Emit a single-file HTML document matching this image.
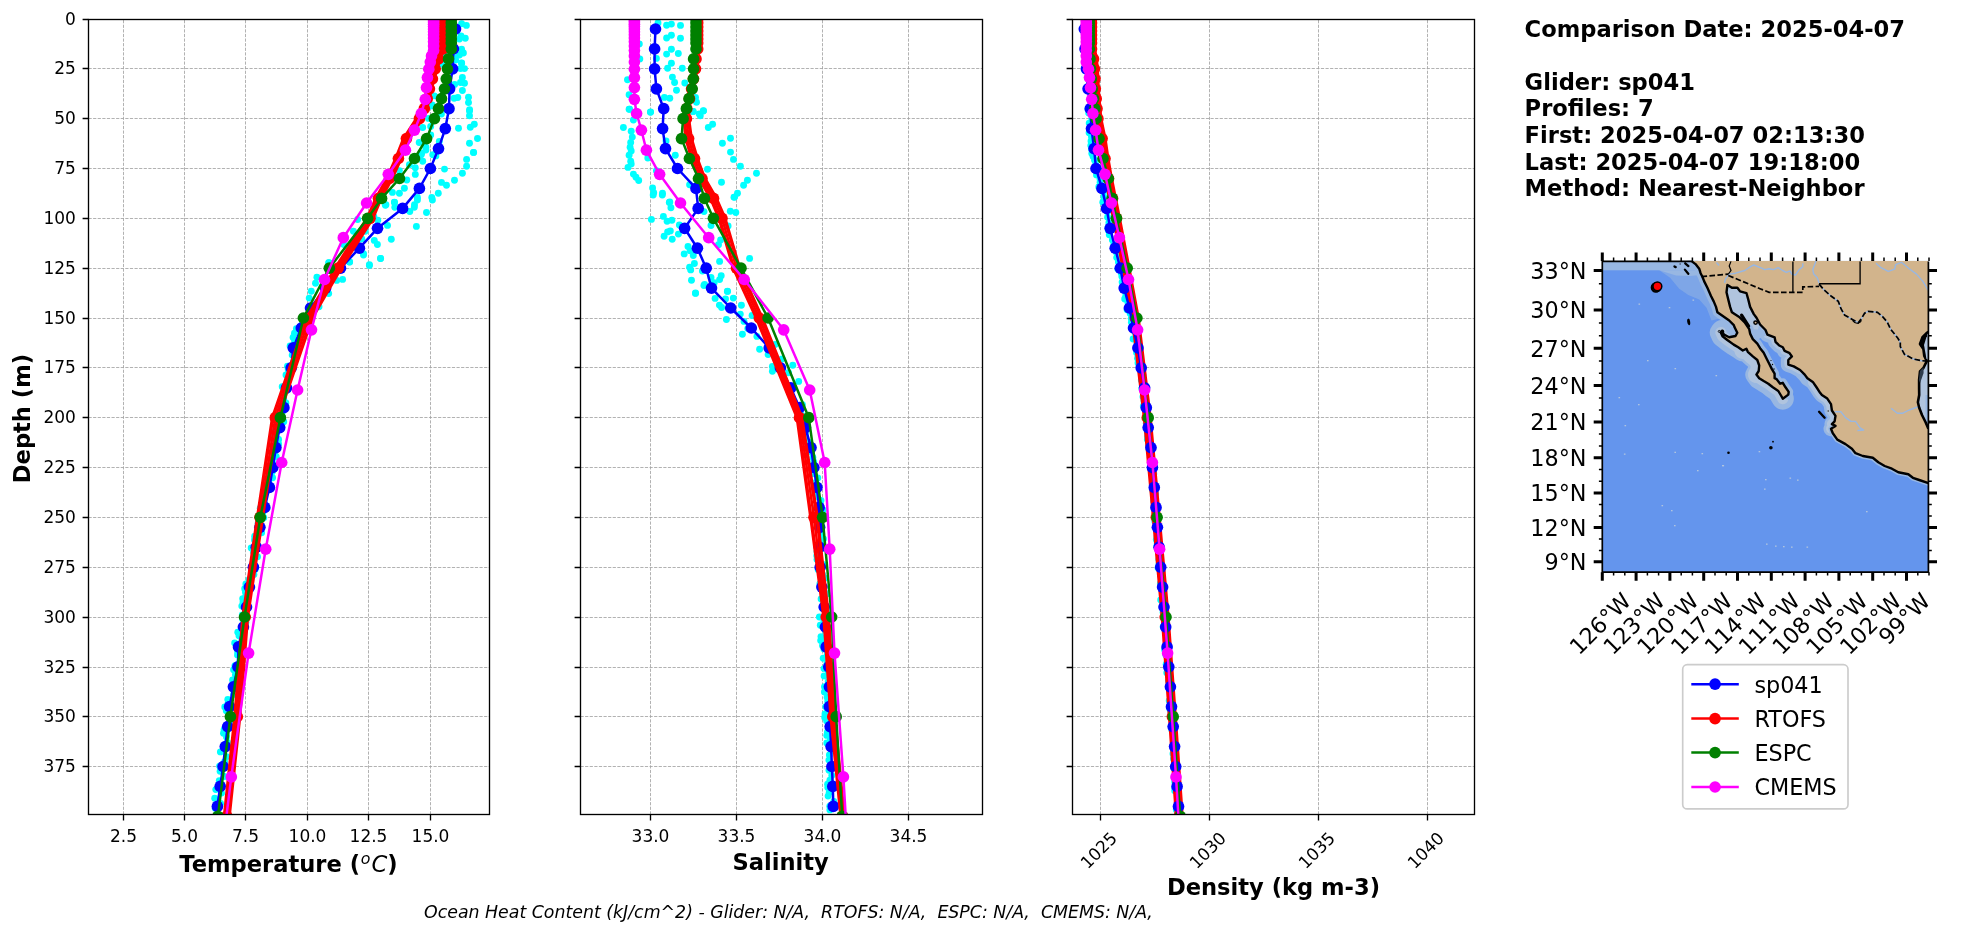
<!DOCTYPE html>
<html lang="en"><head><meta charset="utf-8"><title>Glider vs model profile comparison</title>
<style>html,body{margin:0;padding:0;background:#fff}body{width:1978px;height:934px;overflow:hidden}</style></head>
<body>
<svg width="1978" height="934" viewBox="0 0 1978 934" style="display:block;will-change:transform;font-family:'DejaVu Sans','Liberation Sans',sans-serif">
<rect width="1978" height="934" fill="#fff"/>
<g>
<path d="M123.50 814.50V19.50M184.50 814.50V19.50M245.50 814.50V19.50M307.50 814.50V19.50M368.50 814.50V19.50M430.50 814.50V19.50M88.50 68.50H489.50M88.50 118.50H489.50M88.50 168.50H489.50M88.50 218.50H489.50M88.50 268.50H489.50M88.50 318.50H489.50M88.50 367.50H489.50M88.50 417.50H489.50M88.50 467.50H489.50M88.50 517.50H489.50M88.50 567.50H489.50M88.50 617.50H489.50M88.50 667.50H489.50M88.50 716.50H489.50M88.50 766.50H489.50" stroke="#a2a2a2" stroke-width="0.83" stroke-dasharray="3.2 1.4" fill="none"/>
<g clip-path="url(#clip0)"><g fill="#00ffff"><circle cx="461.6" cy="23.8" r="3.45"/><circle cx="466.4" cy="25.4" r="3.45"/><circle cx="461.0" cy="35.9" r="3.45"/><circle cx="465.3" cy="38.3" r="3.45"/><circle cx="459.4" cy="39.1" r="3.45"/><circle cx="461.6" cy="49.3" r="3.45"/><circle cx="463.4" cy="53.0" r="3.45"/><circle cx="459.4" cy="55.1" r="3.45"/><circle cx="461.6" cy="62.9" r="3.45"/><circle cx="454.6" cy="57.8" r="3.45"/><circle cx="445.0" cy="36.4" r="3.45"/><circle cx="444.4" cy="46.6" r="3.45"/><circle cx="443.9" cy="53.5" r="3.45"/><circle cx="441.2" cy="63.2" r="3.45"/><circle cx="461.6" cy="63.2" r="3.45"/><circle cx="460.5" cy="68.6" r="3.45"/><circle cx="464.5" cy="68.6" r="3.45"/><circle cx="462.4" cy="77.4" r="3.45"/><circle cx="460.5" cy="82.5" r="3.45"/><circle cx="464.5" cy="83.3" r="3.45"/><circle cx="454.6" cy="84.4" r="3.45"/><circle cx="462.4" cy="90.5" r="3.45"/><circle cx="454.1" cy="98.3" r="3.45"/><circle cx="457.8" cy="97.5" r="3.45"/><circle cx="468.5" cy="97.2" r="3.45"/><circle cx="468.5" cy="102.6" r="3.45"/><circle cx="469.6" cy="109.8" r="3.45"/><circle cx="434.3" cy="95.9" r="3.45"/><circle cx="432.1" cy="105.0" r="3.45"/><circle cx="442.3" cy="64.3" r="3.45"/><circle cx="455.7" cy="60.0" r="3.45"/><circle cx="469.5" cy="110.9" r="3.45"/><circle cx="469.5" cy="115.7" r="3.45"/><circle cx="474.3" cy="124.3" r="3.45"/><circle cx="470.3" cy="127.2" r="3.45"/><circle cx="458.5" cy="128.3" r="3.45"/><circle cx="477.5" cy="138.5" r="3.45"/><circle cx="469.5" cy="143.3" r="3.45"/><circle cx="473.5" cy="152.4" r="3.45"/><circle cx="422.7" cy="127.5" r="3.45"/><circle cx="430.7" cy="126.4" r="3.45"/><circle cx="419.2" cy="142.5" r="3.45"/><circle cx="430.7" cy="135.0" r="3.45"/><circle cx="439.3" cy="141.4" r="3.45"/><circle cx="425.9" cy="147.3" r="3.45"/><circle cx="421.6" cy="153.2" r="3.45"/><circle cx="441.4" cy="114.1" r="3.45"/><circle cx="430.7" cy="106.1" r="3.45"/><circle cx="428.5" cy="118.4" r="3.45"/><circle cx="432.8" cy="154.8" r="3.45"/><circle cx="473.6" cy="152.4" r="3.45"/><circle cx="466.6" cy="159.4" r="3.45"/><circle cx="466.6" cy="166.2" r="3.45"/><circle cx="462.4" cy="173.3" r="3.45"/><circle cx="454.5" cy="180.3" r="3.45"/><circle cx="444.5" cy="169.1" r="3.45"/><circle cx="441.5" cy="182.4" r="3.45"/><circle cx="446.5" cy="185.3" r="3.45"/><circle cx="438.3" cy="193.3" r="3.45"/><circle cx="431.8" cy="197.4" r="3.45"/><circle cx="417.4" cy="197.4" r="3.45"/><circle cx="415.3" cy="167.7" r="3.45"/><circle cx="415.3" cy="174.4" r="3.45"/><circle cx="422.7" cy="161.2" r="3.45"/><circle cx="421.2" cy="154.7" r="3.45"/><circle cx="435.9" cy="155.9" r="3.45"/><circle cx="409.4" cy="164.7" r="3.45"/><circle cx="399.4" cy="170.6" r="3.45"/><circle cx="406.8" cy="180.0" r="3.45"/><circle cx="404.4" cy="188.3" r="3.45"/><circle cx="392.4" cy="192.4" r="3.45"/><circle cx="399.4" cy="193.3" r="3.45"/><circle cx="394.4" cy="202.1" r="3.45"/><circle cx="414.5" cy="204.8" r="3.45"/><circle cx="385.9" cy="204.8" r="3.45"/><circle cx="425.9" cy="150.0" r="3.45"/><circle cx="394.5" cy="202.4" r="3.45"/><circle cx="385.4" cy="205.2" r="3.45"/><circle cx="394.8" cy="207.3" r="3.45"/><circle cx="414.3" cy="207.3" r="3.45"/><circle cx="409.8" cy="211.5" r="3.45"/><circle cx="426.5" cy="212.5" r="3.45"/><circle cx="417.4" cy="200.0" r="3.45"/><circle cx="432.4" cy="200.0" r="3.45"/><circle cx="357.6" cy="219.5" r="3.45"/><circle cx="377.8" cy="220.2" r="3.45"/><circle cx="373.9" cy="216.7" r="3.45"/><circle cx="387.5" cy="225.4" r="3.45"/><circle cx="416.4" cy="226.4" r="3.45"/><circle cx="353.4" cy="231.3" r="3.45"/><circle cx="365.2" cy="231.3" r="3.45"/><circle cx="391.3" cy="239.3" r="3.45"/><circle cx="374.3" cy="240.4" r="3.45"/><circle cx="377.4" cy="244.5" r="3.45"/><circle cx="361.8" cy="239.0" r="3.45"/><circle cx="343.7" cy="244.5" r="3.45"/><circle cx="363.5" cy="253.6" r="3.45"/><circle cx="380.5" cy="258.5" r="3.45"/><circle cx="349.6" cy="261.9" r="3.45"/><circle cx="369.4" cy="264.7" r="3.45"/><circle cx="329.0" cy="262.6" r="3.45"/><circle cx="363.5" cy="255.0" r="3.45"/><circle cx="380.6" cy="258.5" r="3.45"/><circle cx="369.4" cy="265.4" r="3.45"/><circle cx="349.6" cy="262.0" r="3.45"/><circle cx="328.7" cy="262.7" r="3.45"/><circle cx="316.9" cy="277.3" r="3.45"/><circle cx="315.5" cy="283.2" r="3.45"/><circle cx="336.7" cy="280.4" r="3.45"/><circle cx="342.6" cy="279.4" r="3.45"/><circle cx="311.3" cy="291.2" r="3.45"/><circle cx="328.7" cy="293.6" r="3.45"/><circle cx="309.2" cy="298.1" r="3.45"/><circle cx="319.0" cy="306.8" r="3.45"/><circle cx="303.5" cy="318.0" r="3.45"/><circle cx="304.5" cy="321.5" r="3.45"/><circle cx="302.1" cy="324.7" r="3.45"/><circle cx="296.4" cy="328.8" r="3.45"/><circle cx="294.5" cy="333.2" r="3.45"/><circle cx="293.1" cy="337.4" r="3.45"/><circle cx="294.6" cy="340.7" r="3.45"/><circle cx="290.1" cy="345.9" r="3.45"/><circle cx="293.1" cy="349.6" r="3.45"/><circle cx="292.2" cy="355.1" r="3.45"/><circle cx="294.9" cy="359.3" r="3.45"/><circle cx="293.6" cy="362.4" r="3.45"/><circle cx="287.5" cy="366.3" r="3.45"/><circle cx="288.2" cy="369.7" r="3.45"/><circle cx="286.0" cy="374.9" r="3.45"/><circle cx="288.6" cy="379.5" r="3.45"/><circle cx="286.9" cy="383.5" r="3.45"/><circle cx="282.2" cy="386.8" r="3.45"/><circle cx="286.6" cy="390.4" r="3.45"/><circle cx="283.1" cy="394.6" r="3.45"/><circle cx="283.6" cy="399.2" r="3.45"/><circle cx="285.9" cy="403.0" r="3.45"/><circle cx="280.8" cy="407.9" r="3.45"/><circle cx="282.1" cy="412.5" r="3.45"/><circle cx="282.6" cy="417.9" r="3.45"/><circle cx="283.8" cy="421.7" r="3.45"/><circle cx="278.6" cy="425.1" r="3.45"/><circle cx="275.4" cy="430.2" r="3.45"/><circle cx="273.7" cy="434.5" r="3.45"/><circle cx="278.6" cy="439.4" r="3.45"/><circle cx="278.6" cy="443.9" r="3.45"/><circle cx="276.4" cy="447.8" r="3.45"/><circle cx="274.8" cy="452.5" r="3.45"/><circle cx="276.2" cy="456.7" r="3.45"/><circle cx="272.4" cy="462.3" r="3.45"/><circle cx="268.3" cy="467.1" r="3.45"/><circle cx="272.2" cy="472.0" r="3.45"/><circle cx="272.6" cy="477.7" r="3.45"/><circle cx="268.5" cy="481.5" r="3.45"/><circle cx="264.8" cy="486.3" r="3.45"/><circle cx="265.0" cy="490.6" r="3.45"/><circle cx="263.4" cy="494.0" r="3.45"/><circle cx="262.7" cy="499.1" r="3.45"/><circle cx="264.0" cy="502.8" r="3.45"/><circle cx="260.2" cy="508.2" r="3.45"/><circle cx="262.9" cy="512.4" r="3.45"/><circle cx="263.8" cy="517.8" r="3.45"/><circle cx="258.1" cy="523.2" r="3.45"/><circle cx="257.8" cy="527.3" r="3.45"/><circle cx="261.6" cy="532.7" r="3.45"/><circle cx="254.7" cy="536.2" r="3.45"/><circle cx="254.5" cy="539.9" r="3.45"/><circle cx="256.6" cy="544.2" r="3.45"/><circle cx="251.2" cy="548.0" r="3.45"/><circle cx="253.5" cy="552.2" r="3.45"/><circle cx="257.5" cy="556.7" r="3.45"/><circle cx="253.3" cy="561.6" r="3.45"/><circle cx="253.9" cy="566.3" r="3.45"/><circle cx="255.1" cy="569.5" r="3.45"/><circle cx="253.9" cy="574.6" r="3.45"/><circle cx="249.0" cy="579.8" r="3.45"/><circle cx="245.9" cy="583.9" r="3.45"/><circle cx="244.7" cy="588.7" r="3.45"/><circle cx="245.4" cy="591.9" r="3.45"/><circle cx="245.9" cy="595.4" r="3.45"/><circle cx="242.7" cy="598.6" r="3.45"/><circle cx="243.0" cy="602.1" r="3.45"/><circle cx="241.8" cy="606.1" r="3.45"/><circle cx="245.7" cy="611.5" r="3.45"/><circle cx="242.3" cy="614.9" r="3.45"/><circle cx="242.6" cy="618.9" r="3.45"/><circle cx="245.9" cy="622.3" r="3.45"/><circle cx="241.9" cy="628.0" r="3.45"/><circle cx="237.8" cy="632.3" r="3.45"/><circle cx="239.0" cy="635.7" r="3.45"/><circle cx="242.0" cy="639.4" r="3.45"/><circle cx="234.7" cy="642.9" r="3.45"/><circle cx="237.7" cy="648.5" r="3.45"/><circle cx="237.7" cy="652.0" r="3.45"/><circle cx="237.5" cy="655.1" r="3.45"/><circle cx="240.0" cy="660.7" r="3.45"/><circle cx="235.0" cy="665.6" r="3.45"/><circle cx="233.6" cy="669.7" r="3.45"/><circle cx="235.4" cy="674.8" r="3.45"/><circle cx="232.6" cy="679.9" r="3.45"/><circle cx="235.6" cy="683.6" r="3.45"/><circle cx="234.8" cy="689.2" r="3.45"/><circle cx="233.5" cy="694.4" r="3.45"/><circle cx="227.8" cy="699.4" r="3.45"/><circle cx="228.0" cy="703.9" r="3.45"/><circle cx="224.8" cy="707.0" r="3.45"/><circle cx="226.3" cy="710.8" r="3.45"/><circle cx="231.4" cy="715.7" r="3.45"/><circle cx="230.8" cy="719.9" r="3.45"/><circle cx="230.4" cy="725.6" r="3.45"/><circle cx="224.1" cy="729.6" r="3.45"/><circle cx="223.5" cy="733.3" r="3.45"/><circle cx="226.5" cy="736.9" r="3.45"/><circle cx="227.5" cy="742.4" r="3.45"/><circle cx="225.5" cy="746.7" r="3.45"/><circle cx="220.4" cy="751.9" r="3.45"/><circle cx="226.5" cy="756.7" r="3.45"/><circle cx="224.6" cy="761.8" r="3.45"/><circle cx="219.6" cy="766.1" r="3.45"/><circle cx="220.1" cy="771.3" r="3.45"/><circle cx="224.4" cy="776.5" r="3.45"/><circle cx="219.3" cy="780.6" r="3.45"/><circle cx="221.0" cy="786.1" r="3.45"/><circle cx="215.8" cy="789.6" r="3.45"/><circle cx="221.5" cy="793.1" r="3.45"/><circle cx="214.7" cy="798.3" r="3.45"/><circle cx="220.6" cy="803.5" r="3.45"/><circle cx="215.2" cy="808.3" r="3.45"/></g>
<polyline points="455.5,29.0 453.4,48.9 452.6,68.8 449.6,88.8 449.0,108.7 445.3,128.6 438.5,148.6 430.4,168.5 419.4,188.4 402.6,208.4 377.5,228.3 359.4,248.2 340.5,268.2 325.6,288.1 310.5,308.0 301.3,328.0 293.3,347.9 291.2,367.8 286.5,387.8 283.9,407.7 279.7,427.6 275.9,447.6 272.8,467.5 269.4,487.4 264.8,507.4 259.9,527.3 256.3,547.2 253.4,567.2 249.4,587.1 246.5,607.0 243.4,627.0 238.5,646.9 237.9,666.8 233.4,686.8 229.6,706.7 227.7,726.6 225.3,746.6 223.1,766.5 220.2,786.4 217.4,806.4" fill="none" stroke="#0000ff" stroke-width="2.50" stroke-linejoin="round"/><g fill="#0000ff"><circle cx="455.5" cy="29.0" r="5.83"/><circle cx="453.4" cy="48.9" r="5.83"/><circle cx="452.6" cy="68.8" r="5.83"/><circle cx="449.6" cy="88.8" r="5.83"/><circle cx="449.0" cy="108.7" r="5.83"/><circle cx="445.3" cy="128.6" r="5.83"/><circle cx="438.5" cy="148.6" r="5.83"/><circle cx="430.4" cy="168.5" r="5.83"/><circle cx="419.4" cy="188.4" r="5.83"/><circle cx="402.6" cy="208.4" r="5.83"/><circle cx="377.5" cy="228.3" r="5.83"/><circle cx="359.4" cy="248.2" r="5.83"/><circle cx="340.5" cy="268.2" r="5.83"/><circle cx="325.6" cy="288.1" r="5.83"/><circle cx="310.5" cy="308.0" r="5.83"/><circle cx="301.3" cy="328.0" r="5.83"/><circle cx="293.3" cy="347.9" r="5.83"/><circle cx="291.2" cy="367.8" r="5.83"/><circle cx="286.5" cy="387.8" r="5.83"/><circle cx="283.9" cy="407.7" r="5.83"/><circle cx="279.7" cy="427.6" r="5.83"/><circle cx="275.9" cy="447.6" r="5.83"/><circle cx="272.8" cy="467.5" r="5.83"/><circle cx="269.4" cy="487.4" r="5.83"/><circle cx="264.8" cy="507.4" r="5.83"/><circle cx="259.9" cy="527.3" r="5.83"/><circle cx="256.3" cy="547.2" r="5.83"/><circle cx="253.4" cy="567.2" r="5.83"/><circle cx="249.4" cy="587.1" r="5.83"/><circle cx="246.5" cy="607.0" r="5.83"/><circle cx="243.4" cy="627.0" r="5.83"/><circle cx="238.5" cy="646.9" r="5.83"/><circle cx="237.9" cy="666.8" r="5.83"/><circle cx="233.4" cy="686.8" r="5.83"/><circle cx="229.6" cy="706.7" r="5.83"/><circle cx="227.7" cy="726.6" r="5.83"/><circle cx="225.3" cy="746.6" r="5.83"/><circle cx="223.1" cy="766.5" r="5.83"/><circle cx="220.2" cy="786.4" r="5.83"/><circle cx="217.4" cy="806.4" r="5.83"/></g>
<polyline points="443.0,19.0 443.0,23.0 443.0,27.0 443.0,31.0 443.0,34.9 443.0,38.9 443.0,42.9 441.7,48.9 437.1,58.9 433.7,68.8 430.8,78.8 427.7,88.8 425.3,98.7 422.1,108.7 416.7,118.7 403.8,138.6 396.0,158.5 387.1,178.5 376.1,198.4 367.4,218.3 335.4,268.2 306.9,318.0 272.6,417.7 257.6,517.3 243.0,617.0 235.0,716.7 224.5,816.3" fill="none" stroke="#ff0000" stroke-width="3.50" stroke-linejoin="round"/><polyline points="445.6,19.0 445.6,23.0 445.6,27.0 445.6,31.0 445.6,34.9 445.6,38.9 445.6,42.9 444.3,48.9 439.9,58.9 436.7,68.8 434.0,78.8 431.1,88.8 429.1,98.7 426.5,108.7 422.1,118.7 409.0,138.6 400.8,158.5 391.9,178.5 380.9,198.4 372.6,218.3 340.8,268.2 312.1,318.0 278.0,417.7 262.4,517.3 247.4,617.0 239.6,716.7 229.1,816.3" fill="none" stroke="#ff0000" stroke-width="3.50" stroke-linejoin="round"/><polyline points="444.3,19.0 444.3,23.0 444.3,27.0 444.3,31.0 444.3,34.9 444.3,38.9 444.3,42.9 443.0,48.9 438.5,58.9 435.2,68.8 432.4,78.8 429.4,88.8 427.2,98.7 424.3,108.7 419.4,118.7 406.4,138.6 398.4,158.5 389.5,178.5 378.5,198.4 370.0,218.3 338.1,268.2 309.5,318.0 275.3,417.7 260.0,517.3 245.2,617.0 237.3,716.7 226.8,816.3" fill="none" stroke="#ff0000" stroke-width="2.50" stroke-linejoin="round"/><g fill="#ff0000"><circle cx="444.3" cy="19.0" r="5.83"/><circle cx="444.3" cy="23.0" r="5.83"/><circle cx="444.3" cy="27.0" r="5.83"/><circle cx="444.3" cy="31.0" r="5.83"/><circle cx="444.3" cy="34.9" r="5.83"/><circle cx="444.3" cy="38.9" r="5.83"/><circle cx="444.3" cy="42.9" r="5.83"/><circle cx="443.0" cy="48.9" r="5.83"/><circle cx="438.5" cy="58.9" r="5.83"/><circle cx="435.2" cy="68.8" r="5.83"/><circle cx="432.4" cy="78.8" r="5.83"/><circle cx="429.4" cy="88.8" r="5.83"/><circle cx="427.2" cy="98.7" r="5.83"/><circle cx="424.3" cy="108.7" r="5.83"/><circle cx="419.4" cy="118.7" r="5.83"/><circle cx="406.4" cy="138.6" r="5.83"/><circle cx="398.4" cy="158.5" r="5.83"/><circle cx="389.5" cy="178.5" r="5.83"/><circle cx="378.5" cy="198.4" r="5.83"/><circle cx="370.0" cy="218.3" r="5.83"/><circle cx="338.1" cy="268.2" r="5.83"/><circle cx="309.5" cy="318.0" r="5.83"/><circle cx="275.3" cy="417.7" r="5.83"/><circle cx="260.0" cy="517.3" r="5.83"/><circle cx="245.2" cy="617.0" r="5.83"/><circle cx="237.3" cy="716.7" r="5.83"/><circle cx="226.8" cy="816.3" r="5.83"/></g>
<polyline points="451.3,19.0 451.3,23.0 451.3,27.0 451.3,31.0 451.3,34.9 451.3,38.9 451.3,42.9 451.3,48.9 448.5,58.9 447.4,68.8 446.3,78.8 444.5,88.8 441.5,98.7 438.5,108.7 434.4,118.7 426.6,138.6 414.5,158.5 399.5,178.5 381.6,198.4 367.6,218.3 329.3,268.2 303.4,318.0 280.4,417.7 260.3,517.3 244.5,617.0 230.4,716.7 217.9,816.3" fill="none" stroke="#008000" stroke-width="2.50" stroke-linejoin="round"/><g fill="#008000"><circle cx="451.3" cy="19.0" r="5.83"/><circle cx="451.3" cy="23.0" r="5.83"/><circle cx="451.3" cy="27.0" r="5.83"/><circle cx="451.3" cy="31.0" r="5.83"/><circle cx="451.3" cy="34.9" r="5.83"/><circle cx="451.3" cy="38.9" r="5.83"/><circle cx="451.3" cy="42.9" r="5.83"/><circle cx="451.3" cy="48.9" r="5.83"/><circle cx="448.5" cy="58.9" r="5.83"/><circle cx="447.4" cy="68.8" r="5.83"/><circle cx="446.3" cy="78.8" r="5.83"/><circle cx="444.5" cy="88.8" r="5.83"/><circle cx="441.5" cy="98.7" r="5.83"/><circle cx="438.5" cy="108.7" r="5.83"/><circle cx="434.4" cy="118.7" r="5.83"/><circle cx="426.6" cy="138.6" r="5.83"/><circle cx="414.5" cy="158.5" r="5.83"/><circle cx="399.5" cy="178.5" r="5.83"/><circle cx="381.6" cy="198.4" r="5.83"/><circle cx="367.6" cy="218.3" r="5.83"/><circle cx="329.3" cy="268.2" r="5.83"/><circle cx="303.4" cy="318.0" r="5.83"/><circle cx="280.4" cy="417.7" r="5.83"/><circle cx="260.3" cy="517.3" r="5.83"/><circle cx="244.5" cy="617.0" r="5.83"/><circle cx="230.4" cy="716.7" r="5.83"/><circle cx="217.9" cy="816.3" r="5.83"/></g>
<polyline points="433.6,20.0 433.6,22.1 433.6,24.3 433.6,26.6 433.6,29.1 433.6,31.8 433.6,34.8 433.6,38.1 433.6,41.7 433.6,45.9 433.6,50.5 431.5,55.9 430.3,62.1 428.8,69.2 427.4,77.6 426.5,87.6 425.3,99.3 421.3,113.5 414.4,130.2 405.4,150.2 388.3,174.3 366.6,203.0 343.3,237.7 324.5,279.5 311.5,329.8 297.6,390.0 281.7,462.5 265.7,549.2 248.6,653.1 231.3,776.9 213.0,923.8" fill="none" stroke="#ff00ff" stroke-width="2.50" stroke-linejoin="round"/><g fill="#ff00ff"><circle cx="433.6" cy="20.0" r="5.83"/><circle cx="433.6" cy="22.1" r="5.83"/><circle cx="433.6" cy="24.3" r="5.83"/><circle cx="433.6" cy="26.6" r="5.83"/><circle cx="433.6" cy="29.1" r="5.83"/><circle cx="433.6" cy="31.8" r="5.83"/><circle cx="433.6" cy="34.8" r="5.83"/><circle cx="433.6" cy="38.1" r="5.83"/><circle cx="433.6" cy="41.7" r="5.83"/><circle cx="433.6" cy="45.9" r="5.83"/><circle cx="433.6" cy="50.5" r="5.83"/><circle cx="431.5" cy="55.9" r="5.83"/><circle cx="430.3" cy="62.1" r="5.83"/><circle cx="428.8" cy="69.2" r="5.83"/><circle cx="427.4" cy="77.6" r="5.83"/><circle cx="426.5" cy="87.6" r="5.83"/><circle cx="425.3" cy="99.3" r="5.83"/><circle cx="421.3" cy="113.5" r="5.83"/><circle cx="414.4" cy="130.2" r="5.83"/><circle cx="405.4" cy="150.2" r="5.83"/><circle cx="388.3" cy="174.3" r="5.83"/><circle cx="366.6" cy="203.0" r="5.83"/><circle cx="343.3" cy="237.7" r="5.83"/><circle cx="324.5" cy="279.5" r="5.83"/><circle cx="311.5" cy="329.8" r="5.83"/><circle cx="297.6" cy="390.0" r="5.83"/><circle cx="281.7" cy="462.5" r="5.83"/><circle cx="265.7" cy="549.2" r="5.83"/><circle cx="248.6" cy="653.1" r="5.83"/><circle cx="231.3" cy="776.9" r="5.83"/><circle cx="213.0" cy="923.8" r="5.83"/></g></g>
<clipPath id="clip0"><rect x="88.50" y="19.50" width="401.00" height="795.00"/></clipPath>
<path d="M123.50 814.50v5.9M184.50 814.50v5.9M245.50 814.50v5.9M307.50 814.50v5.9M368.50 814.50v5.9M430.50 814.50v5.9M88.50 19.50h-5.9M88.50 68.50h-5.9M88.50 118.50h-5.9M88.50 168.50h-5.9M88.50 218.50h-5.9M88.50 268.50h-5.9M88.50 318.50h-5.9M88.50 367.50h-5.9M88.50 417.50h-5.9M88.50 467.50h-5.9M88.50 517.50h-5.9M88.50 567.50h-5.9M88.50 617.50h-5.9M88.50 667.50h-5.9M88.50 716.50h-5.9M88.50 766.50h-5.9" stroke="#000" stroke-width="1.33" fill="none"/>
<rect x="88.50" y="19.50" width="401.00" height="795.00" fill="none" stroke="#000" stroke-width="1.33"/>
<text x="123.50" y="842.1" font-size="17.00" text-anchor="middle">2.5</text>
<text x="184.50" y="842.1" font-size="17.00" text-anchor="middle">5.0</text>
<text x="245.50" y="842.1" font-size="17.00" text-anchor="middle">7.5</text>
<text x="307.50" y="842.1" font-size="17.00" text-anchor="middle">10.0</text>
<text x="368.50" y="842.1" font-size="17.00" text-anchor="middle">12.5</text>
<text x="430.50" y="842.1" font-size="17.00" text-anchor="middle">15.0</text>
<text x="75.9" y="25.10" font-size="17.00" text-anchor="end">0</text>
<text x="75.9" y="74.10" font-size="17.00" text-anchor="end">25</text>
<text x="75.9" y="124.10" font-size="17.00" text-anchor="end">50</text>
<text x="75.9" y="174.10" font-size="17.00" text-anchor="end">75</text>
<text x="75.9" y="224.10" font-size="17.00" text-anchor="end">100</text>
<text x="75.9" y="274.10" font-size="17.00" text-anchor="end">125</text>
<text x="75.9" y="324.10" font-size="17.00" text-anchor="end">150</text>
<text x="75.9" y="373.10" font-size="17.00" text-anchor="end">175</text>
<text x="75.9" y="423.10" font-size="17.00" text-anchor="end">200</text>
<text x="75.9" y="473.10" font-size="17.00" text-anchor="end">225</text>
<text x="75.9" y="523.10" font-size="17.00" text-anchor="end">250</text>
<text x="75.9" y="573.10" font-size="17.00" text-anchor="end">275</text>
<text x="75.9" y="623.10" font-size="17.00" text-anchor="end">300</text>
<text x="75.9" y="673.10" font-size="17.00" text-anchor="end">325</text>
<text x="75.9" y="722.10" font-size="17.00" text-anchor="end">350</text>
<text x="75.9" y="772.10" font-size="17.00" text-anchor="end">375</text>
</g>
<g>
<path d="M650.50 814.50V19.50M736.50 814.50V19.50M822.50 814.50V19.50M908.50 814.50V19.50M580.50 68.50H982.50M580.50 118.50H982.50M580.50 168.50H982.50M580.50 218.50H982.50M580.50 268.50H982.50M580.50 318.50H982.50M580.50 367.50H982.50M580.50 417.50H982.50M580.50 467.50H982.50M580.50 517.50H982.50M580.50 567.50H982.50M580.50 617.50H982.50M580.50 667.50H982.50M580.50 716.50H982.50M580.50 766.50H982.50" stroke="#a2a2a2" stroke-width="0.83" stroke-dasharray="3.2 1.4" fill="none"/>
<g clip-path="url(#clip1)"><g fill="#00ffff"><circle cx="658.0" cy="23.0" r="3.45"/><circle cx="666.6" cy="25.2" r="3.45"/><circle cx="671.4" cy="24.1" r="3.45"/><circle cx="680.5" cy="25.4" r="3.45"/><circle cx="666.6" cy="38.0" r="3.45"/><circle cx="671.4" cy="35.3" r="3.45"/><circle cx="680.5" cy="38.2" r="3.45"/><circle cx="671.4" cy="49.3" r="3.45"/><circle cx="666.6" cy="54.1" r="3.45"/><circle cx="678.3" cy="53.5" r="3.45"/><circle cx="656.4" cy="58.4" r="3.45"/><circle cx="671.4" cy="63.2" r="3.45"/><circle cx="667.6" cy="68.2" r="3.45"/><circle cx="682.3" cy="68.2" r="3.45"/><circle cx="672.4" cy="77.1" r="3.45"/><circle cx="674.6" cy="82.5" r="3.45"/><circle cx="684.8" cy="83.0" r="3.45"/><circle cx="627.5" cy="79.8" r="3.45"/><circle cx="676.5" cy="90.3" r="3.45"/><circle cx="629.1" cy="94.8" r="3.45"/><circle cx="664.4" cy="97.4" r="3.45"/><circle cx="669.8" cy="98.3" r="3.45"/><circle cx="695.5" cy="97.4" r="3.45"/><circle cx="696.5" cy="102.3" r="3.45"/><circle cx="629.6" cy="109.2" r="3.45"/><circle cx="650.5" cy="111.9" r="3.45"/><circle cx="693.3" cy="111.4" r="3.45"/><circle cx="703.5" cy="110.8" r="3.45"/><circle cx="699.2" cy="114.0" r="3.45"/><circle cx="639.3" cy="43.9" r="3.45"/><circle cx="639.8" cy="58.9" r="3.45"/><circle cx="629.1" cy="109.3" r="3.45"/><circle cx="633.4" cy="120.0" r="3.45"/><circle cx="623.4" cy="127.5" r="3.45"/><circle cx="631.2" cy="131.2" r="3.45"/><circle cx="632.3" cy="137.1" r="3.45"/><circle cx="630.7" cy="142.5" r="3.45"/><circle cx="630.1" cy="147.3" r="3.45"/><circle cx="631.2" cy="151.0" r="3.45"/><circle cx="629.1" cy="155.3" r="3.45"/><circle cx="630.7" cy="161.2" r="3.45"/><circle cx="631.2" cy="163.9" r="3.45"/><circle cx="628.0" cy="167.4" r="3.45"/><circle cx="633.4" cy="174.1" r="3.45"/><circle cx="636.0" cy="177.3" r="3.45"/><circle cx="638.7" cy="180.5" r="3.45"/><circle cx="647.8" cy="158.0" r="3.45"/><circle cx="650.5" cy="112.3" r="3.45"/><circle cx="666.0" cy="140.9" r="3.45"/><circle cx="675.3" cy="155.3" r="3.45"/><circle cx="656.4" cy="170.8" r="3.45"/><circle cx="652.6" cy="188.0" r="3.45"/><circle cx="653.7" cy="192.8" r="3.45"/><circle cx="662.5" cy="193.3" r="3.45"/><circle cx="669.8" cy="201.9" r="3.45"/><circle cx="689.6" cy="184.8" r="3.45"/><circle cx="692.8" cy="111.4" r="3.45"/><circle cx="703.3" cy="110.9" r="3.45"/><circle cx="700.3" cy="115.7" r="3.45"/><circle cx="712.6" cy="124.3" r="3.45"/><circle cx="708.3" cy="127.5" r="3.45"/><circle cx="730.5" cy="138.2" r="3.45"/><circle cx="722.4" cy="143.3" r="3.45"/><circle cx="730.5" cy="152.1" r="3.45"/><circle cx="733.5" cy="159.4" r="3.45"/><circle cx="740.4" cy="166.3" r="3.45"/><circle cx="707.5" cy="169.2" r="3.45"/><circle cx="756.5" cy="173.3" r="3.45"/><circle cx="747.4" cy="180.3" r="3.45"/><circle cx="721.5" cy="182.3" r="3.45"/><circle cx="743.6" cy="185.3" r="3.45"/><circle cx="737.5" cy="193.3" r="3.45"/><circle cx="734.0" cy="197.3" r="3.45"/><circle cx="653.2" cy="195.0" r="3.45"/><circle cx="662.3" cy="195.0" r="3.45"/><circle cx="734.6" cy="197.1" r="3.45"/><circle cx="669.3" cy="202.5" r="3.45"/><circle cx="670.9" cy="207.8" r="3.45"/><circle cx="730.3" cy="211.3" r="3.45"/><circle cx="735.8" cy="212.5" r="3.45"/><circle cx="704.0" cy="211.6" r="3.45"/><circle cx="663.4" cy="216.4" r="3.45"/><circle cx="651.4" cy="219.4" r="3.45"/><circle cx="667.1" cy="221.2" r="3.45"/><circle cx="671.9" cy="220.2" r="3.45"/><circle cx="679.4" cy="225.0" r="3.45"/><circle cx="711.0" cy="225.5" r="3.45"/><circle cx="728.1" cy="226.0" r="3.45"/><circle cx="667.6" cy="231.9" r="3.45"/><circle cx="670.3" cy="230.9" r="3.45"/><circle cx="664.1" cy="236.2" r="3.45"/><circle cx="678.4" cy="234.1" r="3.45"/><circle cx="672.2" cy="239.2" r="3.45"/><circle cx="720.6" cy="240.0" r="3.45"/><circle cx="718.5" cy="244.8" r="3.45"/><circle cx="688.0" cy="246.4" r="3.45"/><circle cx="684.2" cy="253.9" r="3.45"/><circle cx="690.1" cy="250.7" r="3.45"/><circle cx="693.3" cy="255.5" r="3.45"/><circle cx="749.6" cy="258.4" r="3.45"/><circle cx="719.6" cy="261.4" r="3.45"/><circle cx="694.4" cy="263.5" r="3.45"/><circle cx="689.6" cy="267.3" r="3.45"/><circle cx="690.7" cy="269.9" r="3.45"/><circle cx="702.4" cy="271.0" r="3.45"/><circle cx="721.2" cy="275.8" r="3.45"/><circle cx="719.6" cy="279.6" r="3.45"/><circle cx="711.0" cy="277.4" r="3.45"/><circle cx="691.5" cy="280.3" r="3.45"/><circle cx="704.6" cy="284.4" r="3.45"/><circle cx="714.2" cy="282.8" r="3.45"/><circle cx="727.4" cy="291.4" r="3.45"/><circle cx="695.5" cy="293.0" r="3.45"/><circle cx="695.5" cy="293.4" r="3.45"/><circle cx="703.9" cy="285.5" r="3.45"/><circle cx="727.5" cy="291.2" r="3.45"/><circle cx="715.1" cy="298.4" r="3.45"/><circle cx="725.5" cy="298.9" r="3.45"/><circle cx="733.3" cy="298.1" r="3.45"/><circle cx="719.4" cy="305.1" r="3.45"/><circle cx="721.6" cy="307.5" r="3.45"/><circle cx="741.4" cy="305.3" r="3.45"/><circle cx="740.3" cy="314.1" r="3.45"/><circle cx="726.4" cy="319.5" r="3.45"/><circle cx="752.1" cy="315.5" r="3.45"/><circle cx="744.0" cy="321.4" r="3.45"/><circle cx="747.8" cy="328.4" r="3.45"/><circle cx="742.4" cy="334.3" r="3.45"/><circle cx="756.9" cy="336.4" r="3.45"/><circle cx="759.6" cy="349.2" r="3.45"/><circle cx="775.1" cy="344.4" r="3.45"/><circle cx="768.1" cy="354.6" r="3.45"/><circle cx="782.0" cy="358.9" r="3.45"/><circle cx="792.8" cy="365.3" r="3.45"/><circle cx="772.4" cy="366.4" r="3.45"/><circle cx="772.4" cy="371.2" r="3.45"/><circle cx="788.5" cy="372.8" r="3.45"/><circle cx="798.7" cy="381.4" r="3.45"/><circle cx="794.4" cy="401.7" r="3.45"/><circle cx="802.4" cy="404.8" r="3.45"/><circle cx="800.7" cy="409.6" r="3.45"/><circle cx="801.6" cy="415.1" r="3.45"/><circle cx="806.4" cy="420.5" r="3.45"/><circle cx="802.9" cy="424.1" r="3.45"/><circle cx="803.9" cy="428.0" r="3.45"/><circle cx="805.4" cy="432.6" r="3.45"/><circle cx="805.5" cy="436.7" r="3.45"/><circle cx="808.8" cy="442.2" r="3.45"/><circle cx="811.9" cy="446.5" r="3.45"/><circle cx="811.5" cy="451.9" r="3.45"/><circle cx="812.9" cy="457.4" r="3.45"/><circle cx="813.8" cy="461.9" r="3.45"/><circle cx="813.6" cy="465.0" r="3.45"/><circle cx="810.6" cy="468.6" r="3.45"/><circle cx="812.7" cy="473.7" r="3.45"/><circle cx="817.8" cy="478.0" r="3.45"/><circle cx="815.3" cy="482.6" r="3.45"/><circle cx="817.8" cy="487.0" r="3.45"/><circle cx="814.8" cy="492.1" r="3.45"/><circle cx="816.4" cy="496.7" r="3.45"/><circle cx="821.0" cy="500.5" r="3.45"/><circle cx="819.8" cy="504.9" r="3.45"/><circle cx="823.0" cy="510.0" r="3.45"/><circle cx="820.7" cy="514.2" r="3.45"/><circle cx="820.0" cy="518.6" r="3.45"/><circle cx="819.6" cy="523.5" r="3.45"/><circle cx="819.9" cy="528.0" r="3.45"/><circle cx="821.6" cy="533.5" r="3.45"/><circle cx="823.5" cy="538.9" r="3.45"/><circle cx="820.4" cy="542.6" r="3.45"/><circle cx="822.7" cy="548.2" r="3.45"/><circle cx="817.0" cy="551.6" r="3.45"/><circle cx="816.8" cy="555.8" r="3.45"/><circle cx="817.0" cy="559.6" r="3.45"/><circle cx="822.9" cy="564.4" r="3.45"/><circle cx="818.2" cy="569.8" r="3.45"/><circle cx="822.6" cy="574.8" r="3.45"/><circle cx="824.7" cy="578.2" r="3.45"/><circle cx="819.9" cy="583.8" r="3.45"/><circle cx="821.9" cy="589.4" r="3.45"/><circle cx="827.1" cy="593.8" r="3.45"/><circle cx="821.1" cy="599.0" r="3.45"/><circle cx="824.4" cy="603.2" r="3.45"/><circle cx="822.3" cy="607.2" r="3.45"/><circle cx="826.7" cy="611.1" r="3.45"/><circle cx="825.6" cy="614.2" r="3.45"/><circle cx="819.4" cy="617.0" r="3.45"/><circle cx="823.9" cy="620.9" r="3.45"/><circle cx="820.3" cy="625.3" r="3.45"/><circle cx="825.6" cy="631.0" r="3.45"/><circle cx="821.0" cy="636.6" r="3.45"/><circle cx="820.7" cy="640.4" r="3.45"/><circle cx="822.5" cy="645.5" r="3.45"/><circle cx="823.9" cy="648.9" r="3.45"/><circle cx="827.4" cy="654.4" r="3.45"/><circle cx="823.2" cy="658.2" r="3.45"/><circle cx="826.9" cy="663.6" r="3.45"/><circle cx="824.0" cy="668.6" r="3.45"/><circle cx="828.3" cy="671.8" r="3.45"/><circle cx="824.1" cy="676.0" r="3.45"/><circle cx="828.2" cy="681.5" r="3.45"/><circle cx="824.5" cy="686.7" r="3.45"/><circle cx="824.4" cy="692.0" r="3.45"/><circle cx="827.1" cy="697.3" r="3.45"/><circle cx="827.8" cy="701.3" r="3.45"/><circle cx="825.8" cy="706.8" r="3.45"/><circle cx="827.7" cy="710.2" r="3.45"/><circle cx="825.0" cy="713.9" r="3.45"/><circle cx="824.7" cy="717.4" r="3.45"/><circle cx="826.7" cy="721.0" r="3.45"/><circle cx="829.9" cy="724.9" r="3.45"/><circle cx="828.3" cy="728.7" r="3.45"/><circle cx="827.4" cy="732.3" r="3.45"/><circle cx="826.8" cy="735.4" r="3.45"/><circle cx="830.4" cy="738.5" r="3.45"/><circle cx="826.8" cy="743.0" r="3.45"/><circle cx="832.2" cy="747.3" r="3.45"/><circle cx="831.5" cy="750.7" r="3.45"/><circle cx="829.4" cy="754.9" r="3.45"/><circle cx="828.9" cy="760.1" r="3.45"/><circle cx="831.1" cy="764.5" r="3.45"/><circle cx="829.0" cy="770.2" r="3.45"/><circle cx="831.8" cy="775.5" r="3.45"/><circle cx="829.9" cy="780.2" r="3.45"/><circle cx="827.6" cy="784.2" r="3.45"/><circle cx="827.8" cy="787.6" r="3.45"/><circle cx="829.2" cy="792.6" r="3.45"/><circle cx="828.1" cy="796.1" r="3.45"/><circle cx="833.8" cy="801.4" r="3.45"/><circle cx="829.8" cy="806.2" r="3.45"/><circle cx="829.9" cy="809.9" r="3.45"/></g>
<polyline points="655.5,29.0 654.6,48.9 654.6,68.8 656.4,88.8 663.7,108.7 662.6,128.6 665.5,148.6 677.5,168.5 696.0,188.4 698.2,208.4 684.6,228.3 697.4,248.2 706.2,268.2 711.5,288.1 730.7,308.0 751.3,328.0 769.2,347.9 780.4,367.8 790.8,387.8 799.4,407.7 805.4,427.6 811.0,447.6 813.9,467.5 816.9,487.4 819.1,507.4 819.6,527.3 819.4,547.2 820.2,567.2 821.9,587.1 824.2,607.0 825.4,627.0 826.2,646.9 828.8,666.8 829.4,686.8 829.4,706.7 830.2,726.6 831.1,746.6 831.9,766.5 832.8,786.4 833.3,806.4" fill="none" stroke="#0000ff" stroke-width="2.50" stroke-linejoin="round"/><g fill="#0000ff"><circle cx="655.5" cy="29.0" r="5.83"/><circle cx="654.6" cy="48.9" r="5.83"/><circle cx="654.6" cy="68.8" r="5.83"/><circle cx="656.4" cy="88.8" r="5.83"/><circle cx="663.7" cy="108.7" r="5.83"/><circle cx="662.6" cy="128.6" r="5.83"/><circle cx="665.5" cy="148.6" r="5.83"/><circle cx="677.5" cy="168.5" r="5.83"/><circle cx="696.0" cy="188.4" r="5.83"/><circle cx="698.2" cy="208.4" r="5.83"/><circle cx="684.6" cy="228.3" r="5.83"/><circle cx="697.4" cy="248.2" r="5.83"/><circle cx="706.2" cy="268.2" r="5.83"/><circle cx="711.5" cy="288.1" r="5.83"/><circle cx="730.7" cy="308.0" r="5.83"/><circle cx="751.3" cy="328.0" r="5.83"/><circle cx="769.2" cy="347.9" r="5.83"/><circle cx="780.4" cy="367.8" r="5.83"/><circle cx="790.8" cy="387.8" r="5.83"/><circle cx="799.4" cy="407.7" r="5.83"/><circle cx="805.4" cy="427.6" r="5.83"/><circle cx="811.0" cy="447.6" r="5.83"/><circle cx="813.9" cy="467.5" r="5.83"/><circle cx="816.9" cy="487.4" r="5.83"/><circle cx="819.1" cy="507.4" r="5.83"/><circle cx="819.6" cy="527.3" r="5.83"/><circle cx="819.4" cy="547.2" r="5.83"/><circle cx="820.2" cy="567.2" r="5.83"/><circle cx="821.9" cy="587.1" r="5.83"/><circle cx="824.2" cy="607.0" r="5.83"/><circle cx="825.4" cy="627.0" r="5.83"/><circle cx="826.2" cy="646.9" r="5.83"/><circle cx="828.8" cy="666.8" r="5.83"/><circle cx="829.4" cy="686.8" r="5.83"/><circle cx="829.4" cy="706.7" r="5.83"/><circle cx="830.2" cy="726.6" r="5.83"/><circle cx="831.1" cy="746.6" r="5.83"/><circle cx="831.9" cy="766.5" r="5.83"/><circle cx="832.8" cy="786.4" r="5.83"/><circle cx="833.3" cy="806.4" r="5.83"/></g>
<polyline points="696.5,19.0 696.5,23.0 696.5,27.0 696.5,31.0 696.5,34.9 696.5,38.9 696.5,42.9 696.5,48.9 694.8,58.9 694.3,68.8 692.2,78.8 690.2,88.8 688.0,98.7 685.1,108.7 684.3,118.7 686.0,138.6 691.9,158.5 699.4,178.5 710.9,198.4 719.2,218.3 733.6,268.2 756.6,318.0 797.3,417.7 810.9,517.3 824.0,617.0 831.1,716.7 841.0,816.3" fill="none" stroke="#ff0000" stroke-width="3.50" stroke-linejoin="round"/><polyline points="698.9,19.0 698.9,23.0 698.9,27.0 698.9,31.0 698.9,34.9 698.9,38.9 698.9,42.9 698.9,48.9 697.2,58.9 696.7,68.8 694.8,78.8 693.0,88.8 691.0,98.7 688.5,108.7 688.5,118.7 691.2,138.6 697.1,158.5 704.6,178.5 716.1,198.4 724.8,218.3 739.4,268.2 762.0,318.0 801.7,417.7 817.1,517.3 828.4,617.0 834.5,716.7 844.0,816.3" fill="none" stroke="#ff0000" stroke-width="3.50" stroke-linejoin="round"/><polyline points="697.7,19.0 697.7,23.0 697.7,27.0 697.7,31.0 697.7,34.9 697.7,38.9 697.7,42.9 697.7,48.9 696.0,58.9 695.5,68.8 693.5,78.8 691.6,88.8 689.5,98.7 686.8,108.7 686.4,118.7 688.6,138.6 694.5,158.5 702.0,178.5 713.5,198.4 722.0,218.3 736.5,268.2 759.3,318.0 799.5,417.7 814.0,517.3 826.2,617.0 832.8,716.7 842.5,816.3" fill="none" stroke="#ff0000" stroke-width="2.50" stroke-linejoin="round"/><g fill="#ff0000"><circle cx="697.7" cy="19.0" r="5.83"/><circle cx="697.7" cy="23.0" r="5.83"/><circle cx="697.7" cy="27.0" r="5.83"/><circle cx="697.7" cy="31.0" r="5.83"/><circle cx="697.7" cy="34.9" r="5.83"/><circle cx="697.7" cy="38.9" r="5.83"/><circle cx="697.7" cy="42.9" r="5.83"/><circle cx="697.7" cy="48.9" r="5.83"/><circle cx="696.0" cy="58.9" r="5.83"/><circle cx="695.5" cy="68.8" r="5.83"/><circle cx="693.5" cy="78.8" r="5.83"/><circle cx="691.6" cy="88.8" r="5.83"/><circle cx="689.5" cy="98.7" r="5.83"/><circle cx="686.8" cy="108.7" r="5.83"/><circle cx="686.4" cy="118.7" r="5.83"/><circle cx="688.6" cy="138.6" r="5.83"/><circle cx="694.5" cy="158.5" r="5.83"/><circle cx="702.0" cy="178.5" r="5.83"/><circle cx="713.5" cy="198.4" r="5.83"/><circle cx="722.0" cy="218.3" r="5.83"/><circle cx="736.5" cy="268.2" r="5.83"/><circle cx="759.3" cy="318.0" r="5.83"/><circle cx="799.5" cy="417.7" r="5.83"/><circle cx="814.0" cy="517.3" r="5.83"/><circle cx="826.2" cy="617.0" r="5.83"/><circle cx="832.8" cy="716.7" r="5.83"/><circle cx="842.5" cy="816.3" r="5.83"/></g>
<polyline points="696.0,19.0 696.0,23.0 696.0,27.0 696.0,31.0 696.0,34.9 696.0,38.9 696.0,42.9 696.0,48.9 693.6,58.9 693.6,68.8 693.3,78.8 692.2,88.8 689.0,98.7 686.4,108.7 683.1,118.7 681.5,138.6 689.4,158.5 698.5,178.5 704.4,198.4 713.4,218.3 741.0,268.2 768.1,318.0 808.8,417.7 822.6,517.3 831.7,617.0 836.2,716.7 842.2,816.3" fill="none" stroke="#008000" stroke-width="2.50" stroke-linejoin="round"/><g fill="#008000"><circle cx="696.0" cy="19.0" r="5.83"/><circle cx="696.0" cy="23.0" r="5.83"/><circle cx="696.0" cy="27.0" r="5.83"/><circle cx="696.0" cy="31.0" r="5.83"/><circle cx="696.0" cy="34.9" r="5.83"/><circle cx="696.0" cy="38.9" r="5.83"/><circle cx="696.0" cy="42.9" r="5.83"/><circle cx="696.0" cy="48.9" r="5.83"/><circle cx="693.6" cy="58.9" r="5.83"/><circle cx="693.6" cy="68.8" r="5.83"/><circle cx="693.3" cy="78.8" r="5.83"/><circle cx="692.2" cy="88.8" r="5.83"/><circle cx="689.0" cy="98.7" r="5.83"/><circle cx="686.4" cy="108.7" r="5.83"/><circle cx="683.1" cy="118.7" r="5.83"/><circle cx="681.5" cy="138.6" r="5.83"/><circle cx="689.4" cy="158.5" r="5.83"/><circle cx="698.5" cy="178.5" r="5.83"/><circle cx="704.4" cy="198.4" r="5.83"/><circle cx="713.4" cy="218.3" r="5.83"/><circle cx="741.0" cy="268.2" r="5.83"/><circle cx="768.1" cy="318.0" r="5.83"/><circle cx="808.8" cy="417.7" r="5.83"/><circle cx="822.6" cy="517.3" r="5.83"/><circle cx="831.7" cy="617.0" r="5.83"/><circle cx="836.2" cy="716.7" r="5.83"/><circle cx="842.2" cy="816.3" r="5.83"/></g>
<polyline points="634.4,20.0 634.4,22.1 634.4,24.3 634.4,26.6 634.4,29.1 634.4,31.8 634.4,34.8 634.4,38.1 634.4,41.7 634.4,45.9 634.4,50.5 634.4,55.9 634.4,62.1 634.4,69.2 634.4,77.6 634.4,87.6 634.4,99.3 636.6,113.5 641.4,130.2 646.4,150.2 659.6,174.3 680.5,203.0 708.7,237.7 744.2,279.5 783.7,329.8 809.7,390.0 824.7,462.5 829.7,549.2 834.5,653.1 843.4,776.9 852.0,923.8" fill="none" stroke="#ff00ff" stroke-width="2.50" stroke-linejoin="round"/><g fill="#ff00ff"><circle cx="634.4" cy="20.0" r="5.83"/><circle cx="634.4" cy="22.1" r="5.83"/><circle cx="634.4" cy="24.3" r="5.83"/><circle cx="634.4" cy="26.6" r="5.83"/><circle cx="634.4" cy="29.1" r="5.83"/><circle cx="634.4" cy="31.8" r="5.83"/><circle cx="634.4" cy="34.8" r="5.83"/><circle cx="634.4" cy="38.1" r="5.83"/><circle cx="634.4" cy="41.7" r="5.83"/><circle cx="634.4" cy="45.9" r="5.83"/><circle cx="634.4" cy="50.5" r="5.83"/><circle cx="634.4" cy="55.9" r="5.83"/><circle cx="634.4" cy="62.1" r="5.83"/><circle cx="634.4" cy="69.2" r="5.83"/><circle cx="634.4" cy="77.6" r="5.83"/><circle cx="634.4" cy="87.6" r="5.83"/><circle cx="634.4" cy="99.3" r="5.83"/><circle cx="636.6" cy="113.5" r="5.83"/><circle cx="641.4" cy="130.2" r="5.83"/><circle cx="646.4" cy="150.2" r="5.83"/><circle cx="659.6" cy="174.3" r="5.83"/><circle cx="680.5" cy="203.0" r="5.83"/><circle cx="708.7" cy="237.7" r="5.83"/><circle cx="744.2" cy="279.5" r="5.83"/><circle cx="783.7" cy="329.8" r="5.83"/><circle cx="809.7" cy="390.0" r="5.83"/><circle cx="824.7" cy="462.5" r="5.83"/><circle cx="829.7" cy="549.2" r="5.83"/><circle cx="834.5" cy="653.1" r="5.83"/><circle cx="843.4" cy="776.9" r="5.83"/><circle cx="852.0" cy="923.8" r="5.83"/></g></g>
<clipPath id="clip1"><rect x="580.50" y="19.50" width="402.00" height="795.00"/></clipPath>
<path d="M650.50 814.50v5.9M736.50 814.50v5.9M822.50 814.50v5.9M908.50 814.50v5.9M580.50 19.50h-5.9M580.50 68.50h-5.9M580.50 118.50h-5.9M580.50 168.50h-5.9M580.50 218.50h-5.9M580.50 268.50h-5.9M580.50 318.50h-5.9M580.50 367.50h-5.9M580.50 417.50h-5.9M580.50 467.50h-5.9M580.50 517.50h-5.9M580.50 567.50h-5.9M580.50 617.50h-5.9M580.50 667.50h-5.9M580.50 716.50h-5.9M580.50 766.50h-5.9" stroke="#000" stroke-width="1.33" fill="none"/>
<rect x="580.50" y="19.50" width="402.00" height="795.00" fill="none" stroke="#000" stroke-width="1.33"/>
<text x="650.50" y="842.1" font-size="17.00" text-anchor="middle">33.0</text>
<text x="736.50" y="842.1" font-size="17.00" text-anchor="middle">33.5</text>
<text x="822.50" y="842.1" font-size="17.00" text-anchor="middle">34.0</text>
<text x="908.50" y="842.1" font-size="17.00" text-anchor="middle">34.5</text>
</g>
<g>
<path d="M1100.50 814.50V19.50M1209.50 814.50V19.50M1318.50 814.50V19.50M1427.50 814.50V19.50M1072.50 68.50H1474.50M1072.50 118.50H1474.50M1072.50 168.50H1474.50M1072.50 218.50H1474.50M1072.50 268.50H1474.50M1072.50 318.50H1474.50M1072.50 367.50H1474.50M1072.50 417.50H1474.50M1072.50 467.50H1474.50M1072.50 517.50H1474.50M1072.50 567.50H1474.50M1072.50 617.50H1474.50M1072.50 667.50H1474.50M1072.50 716.50H1474.50M1072.50 766.50H1474.50" stroke="#a2a2a2" stroke-width="0.83" stroke-dasharray="3.2 1.4" fill="none"/>
<g clip-path="url(#clip2)"><g fill="#00ffff"><circle cx="1088.0" cy="108.7" r="3.45"/><circle cx="1088.7" cy="112.9" r="3.45"/><circle cx="1091.8" cy="118.5" r="3.45"/><circle cx="1089.2" cy="123.1" r="3.45"/><circle cx="1089.8" cy="128.7" r="3.45"/><circle cx="1089.1" cy="132.7" r="3.45"/><circle cx="1091.5" cy="136.7" r="3.45"/><circle cx="1091.0" cy="141.1" r="3.45"/><circle cx="1090.8" cy="145.5" r="3.45"/><circle cx="1091.6" cy="149.3" r="3.45"/><circle cx="1091.8" cy="153.4" r="3.45"/><circle cx="1093.1" cy="156.5" r="3.45"/><circle cx="1094.6" cy="160.2" r="3.45"/><circle cx="1095.7" cy="164.7" r="3.45"/><circle cx="1096.2" cy="169.5" r="3.45"/><circle cx="1096.5" cy="174.9" r="3.45"/><circle cx="1100.0" cy="178.8" r="3.45"/><circle cx="1100.1" cy="182.3" r="3.45"/><circle cx="1098.8" cy="187.0" r="3.45"/><circle cx="1103.5" cy="192.3" r="3.45"/><circle cx="1103.9" cy="197.0" r="3.45"/><circle cx="1102.8" cy="202.2" r="3.45"/><circle cx="1105.3" cy="206.7" r="3.45"/><circle cx="1107.5" cy="211.9" r="3.45"/><circle cx="1107.6" cy="217.2" r="3.45"/><circle cx="1108.9" cy="222.6" r="3.45"/><circle cx="1108.1" cy="227.5" r="3.45"/><circle cx="1108.4" cy="230.6" r="3.45"/><circle cx="1109.3" cy="234.7" r="3.45"/><circle cx="1112.4" cy="239.9" r="3.45"/><circle cx="1113.8" cy="244.7" r="3.45"/><circle cx="1114.5" cy="249.5" r="3.45"/><circle cx="1116.5" cy="252.6" r="3.45"/><circle cx="1116.7" cy="257.6" r="3.45"/><circle cx="1118.4" cy="262.1" r="3.45"/><circle cx="1119.6" cy="265.4" r="3.45"/><circle cx="1117.9" cy="269.1" r="3.45"/><circle cx="1121.2" cy="272.9" r="3.45"/><circle cx="1121.9" cy="276.5" r="3.45"/><circle cx="1122.1" cy="282.1" r="3.45"/><circle cx="1122.8" cy="286.2" r="3.45"/><circle cx="1125.1" cy="291.0" r="3.45"/><circle cx="1125.8" cy="295.7" r="3.45"/><circle cx="1124.7" cy="299.0" r="3.45"/><circle cx="1128.0" cy="302.7" r="3.45"/><circle cx="1128.3" cy="306.6" r="3.45"/><circle cx="1127.1" cy="309.7" r="3.45"/><circle cx="1130.2" cy="313.5" r="3.45"/><circle cx="1131.3" cy="318.4" r="3.45"/><circle cx="1131.4" cy="322.2" r="3.45"/><circle cx="1132.1" cy="326.5" r="3.45"/><circle cx="1134.5" cy="329.9" r="3.45"/><circle cx="1135.6" cy="333.5" r="3.45"/><circle cx="1133.1" cy="339.0" r="3.45"/><circle cx="1137.2" cy="343.3" r="3.45"/><circle cx="1136.9" cy="348.9" r="3.45"/><circle cx="1136.6" cy="352.7" r="3.45"/><circle cx="1137.5" cy="358.3" r="3.45"/><circle cx="1138.0" cy="362.9" r="3.45"/><circle cx="1141.9" cy="367.3" r="3.45"/><circle cx="1142.0" cy="370.7" r="3.45"/><circle cx="1143.0" cy="375.1" r="3.45"/><circle cx="1141.3" cy="380.1" r="3.45"/><circle cx="1143.2" cy="385.5" r="3.45"/><circle cx="1141.8" cy="388.6" r="3.45"/><circle cx="1143.9" cy="393.0" r="3.45"/><circle cx="1143.0" cy="396.8" r="3.45"/><circle cx="1144.0" cy="400.8" r="3.45"/><circle cx="1143.3" cy="406.1" r="3.45"/><circle cx="1147.0" cy="411.1" r="3.45"/><circle cx="1147.7" cy="414.5" r="3.45"/><circle cx="1148.0" cy="419.5" r="3.45"/><circle cx="1146.3" cy="423.3" r="3.45"/><circle cx="1149.2" cy="427.4" r="3.45"/><circle cx="1147.3" cy="432.0" r="3.45"/><circle cx="1147.6" cy="436.2" r="3.45"/><circle cx="1147.4" cy="439.4" r="3.45"/><circle cx="1148.8" cy="444.7" r="3.45"/><circle cx="1149.3" cy="450.2" r="3.45"/><circle cx="1150.5" cy="454.0" r="3.45"/><circle cx="1150.3" cy="457.6" r="3.45"/><circle cx="1152.6" cy="463.1" r="3.45"/><circle cx="1152.0" cy="468.4" r="3.45"/><circle cx="1153.8" cy="473.8" r="3.45"/><circle cx="1153.3" cy="478.3" r="3.45"/><circle cx="1153.7" cy="481.5" r="3.45"/><circle cx="1154.2" cy="485.8" r="3.45"/><circle cx="1152.8" cy="490.6" r="3.45"/><circle cx="1155.6" cy="493.8" r="3.45"/><circle cx="1154.1" cy="497.2" r="3.45"/><circle cx="1153.7" cy="501.1" r="3.45"/><circle cx="1156.8" cy="506.2" r="3.45"/><circle cx="1155.8" cy="509.9" r="3.45"/><circle cx="1155.7" cy="513.8" r="3.45"/><circle cx="1154.5" cy="517.9" r="3.45"/><circle cx="1154.9" cy="521.4" r="3.45"/><circle cx="1156.4" cy="526.8" r="3.45"/><circle cx="1158.3" cy="530.5" r="3.45"/><circle cx="1157.0" cy="536.2" r="3.45"/><circle cx="1156.3" cy="539.6" r="3.45"/><circle cx="1157.2" cy="542.9" r="3.45"/><circle cx="1157.0" cy="546.2" r="3.45"/><circle cx="1158.6" cy="550.0" r="3.45"/><circle cx="1159.8" cy="555.4" r="3.45"/><circle cx="1158.8" cy="559.5" r="3.45"/><circle cx="1159.0" cy="564.0" r="3.45"/><circle cx="1158.1" cy="567.9" r="3.45"/><circle cx="1162.0" cy="571.7" r="3.45"/><circle cx="1160.5" cy="575.1" r="3.45"/><circle cx="1162.4" cy="579.9" r="3.45"/><circle cx="1160.4" cy="583.5" r="3.45"/><circle cx="1161.3" cy="587.2" r="3.45"/><circle cx="1163.7" cy="591.5" r="3.45"/><circle cx="1163.8" cy="596.8" r="3.45"/><circle cx="1160.7" cy="599.9" r="3.45"/><circle cx="1164.4" cy="604.8" r="3.45"/><circle cx="1163.6" cy="609.1" r="3.45"/><circle cx="1163.1" cy="612.2" r="3.45"/><circle cx="1165.2" cy="617.7" r="3.45"/><circle cx="1166.3" cy="623.0" r="3.45"/><circle cx="1163.2" cy="626.8" r="3.45"/><circle cx="1165.1" cy="630.2" r="3.45"/><circle cx="1167.0" cy="635.1" r="3.45"/><circle cx="1166.2" cy="640.1" r="3.45"/><circle cx="1165.9" cy="645.2" r="3.45"/><circle cx="1164.6" cy="649.7" r="3.45"/><circle cx="1165.8" cy="654.8" r="3.45"/><circle cx="1167.9" cy="660.3" r="3.45"/><circle cx="1166.2" cy="664.2" r="3.45"/><circle cx="1168.5" cy="667.9" r="3.45"/><circle cx="1166.8" cy="672.8" r="3.45"/><circle cx="1168.7" cy="676.1" r="3.45"/><circle cx="1168.5" cy="680.7" r="3.45"/><circle cx="1169.6" cy="684.3" r="3.45"/><circle cx="1168.7" cy="687.4" r="3.45"/><circle cx="1171.5" cy="691.7" r="3.45"/><circle cx="1171.5" cy="696.5" r="3.45"/><circle cx="1169.2" cy="700.8" r="3.45"/><circle cx="1172.2" cy="704.5" r="3.45"/><circle cx="1170.0" cy="709.4" r="3.45"/><circle cx="1171.0" cy="712.6" r="3.45"/><circle cx="1171.2" cy="717.4" r="3.45"/><circle cx="1172.4" cy="721.2" r="3.45"/><circle cx="1171.2" cy="726.7" r="3.45"/><circle cx="1171.8" cy="729.8" r="3.45"/><circle cx="1173.5" cy="734.0" r="3.45"/><circle cx="1174.2" cy="737.6" r="3.45"/><circle cx="1173.4" cy="742.6" r="3.45"/><circle cx="1175.5" cy="746.2" r="3.45"/><circle cx="1175.1" cy="750.1" r="3.45"/><circle cx="1173.0" cy="753.8" r="3.45"/><circle cx="1173.5" cy="758.8" r="3.45"/><circle cx="1174.6" cy="764.4" r="3.45"/><circle cx="1173.8" cy="768.0" r="3.45"/><circle cx="1175.8" cy="772.1" r="3.45"/><circle cx="1174.2" cy="777.7" r="3.45"/><circle cx="1174.7" cy="781.8" r="3.45"/><circle cx="1174.8" cy="787.5" r="3.45"/><circle cx="1174.7" cy="790.7" r="3.45"/><circle cx="1178.3" cy="794.8" r="3.45"/><circle cx="1178.0" cy="800.2" r="3.45"/><circle cx="1179.2" cy="805.9" r="3.45"/><circle cx="1176.3" cy="809.8" r="3.45"/></g>
<polyline points="1091.5,19.0 1091.5,23.0 1091.5,27.0 1091.5,31.0 1091.5,34.9 1091.5,38.9 1091.5,42.9 1091.5,48.9 1093.5,58.9 1094.4,68.8 1095.0,78.8 1095.3,88.8 1096.2,98.7 1097.0,108.7 1097.9,118.7 1102.1,138.6 1105.0,158.5 1108.5,178.5 1112.5,198.4 1116.5,218.3 1126.0,268.2 1135.3,318.0 1147.3,417.7 1156.3,517.3 1165.2,617.0 1172.4,716.7 1179.3,816.3" fill="none" stroke="#ff0000" stroke-width="9.00" stroke-linejoin="round"/><g fill="#ff0000"><circle cx="1091.5" cy="19.0" r="5.83"/><circle cx="1091.5" cy="23.0" r="5.83"/><circle cx="1091.5" cy="27.0" r="5.83"/><circle cx="1091.5" cy="31.0" r="5.83"/><circle cx="1091.5" cy="34.9" r="5.83"/><circle cx="1091.5" cy="38.9" r="5.83"/><circle cx="1091.5" cy="42.9" r="5.83"/><circle cx="1091.5" cy="48.9" r="5.83"/><circle cx="1093.5" cy="58.9" r="5.83"/><circle cx="1094.4" cy="68.8" r="5.83"/><circle cx="1095.0" cy="78.8" r="5.83"/><circle cx="1095.3" cy="88.8" r="5.83"/><circle cx="1096.2" cy="98.7" r="5.83"/><circle cx="1097.0" cy="108.7" r="5.83"/><circle cx="1097.9" cy="118.7" r="5.83"/><circle cx="1102.1" cy="138.6" r="5.83"/><circle cx="1105.0" cy="158.5" r="5.83"/><circle cx="1108.5" cy="178.5" r="5.83"/><circle cx="1112.5" cy="198.4" r="5.83"/><circle cx="1116.5" cy="218.3" r="5.83"/><circle cx="1126.0" cy="268.2" r="5.83"/><circle cx="1135.3" cy="318.0" r="5.83"/><circle cx="1147.3" cy="417.7" r="5.83"/><circle cx="1156.3" cy="517.3" r="5.83"/><circle cx="1165.2" cy="617.0" r="5.83"/><circle cx="1172.4" cy="716.7" r="5.83"/><circle cx="1179.3" cy="816.3" r="5.83"/></g>
<polyline points="1084.3,29.0 1085.0,48.9 1086.4,68.8 1088.1,88.8 1090.3,108.7 1091.5,128.6 1094.1,148.6 1096.0,168.5 1102.0,188.4 1106.6,208.4 1110.2,228.3 1115.2,248.2 1120.3,268.2 1124.2,288.1 1129.4,308.0 1133.5,328.0 1137.9,347.9 1141.2,367.8 1144.6,387.8 1146.3,407.7 1148.2,427.6 1151.0,447.6 1152.4,467.5 1154.3,487.4 1156.0,507.4 1157.4,527.3 1159.1,547.2 1160.7,567.2 1162.6,587.1 1164.0,607.0 1165.7,627.0 1167.1,646.9 1168.8,666.8 1170.4,686.8 1171.5,706.7 1173.2,726.6 1174.6,746.6 1175.7,766.5 1177.1,786.4 1178.5,806.4" fill="none" stroke="#0000ff" stroke-width="2.50" stroke-linejoin="round"/><g fill="#0000ff"><circle cx="1084.3" cy="29.0" r="5.83"/><circle cx="1085.0" cy="48.9" r="5.83"/><circle cx="1086.4" cy="68.8" r="5.83"/><circle cx="1088.1" cy="88.8" r="5.83"/><circle cx="1090.3" cy="108.7" r="5.83"/><circle cx="1091.5" cy="128.6" r="5.83"/><circle cx="1094.1" cy="148.6" r="5.83"/><circle cx="1096.0" cy="168.5" r="5.83"/><circle cx="1102.0" cy="188.4" r="5.83"/><circle cx="1106.6" cy="208.4" r="5.83"/><circle cx="1110.2" cy="228.3" r="5.83"/><circle cx="1115.2" cy="248.2" r="5.83"/><circle cx="1120.3" cy="268.2" r="5.83"/><circle cx="1124.2" cy="288.1" r="5.83"/><circle cx="1129.4" cy="308.0" r="5.83"/><circle cx="1133.5" cy="328.0" r="5.83"/><circle cx="1137.9" cy="347.9" r="5.83"/><circle cx="1141.2" cy="367.8" r="5.83"/><circle cx="1144.6" cy="387.8" r="5.83"/><circle cx="1146.3" cy="407.7" r="5.83"/><circle cx="1148.2" cy="427.6" r="5.83"/><circle cx="1151.0" cy="447.6" r="5.83"/><circle cx="1152.4" cy="467.5" r="5.83"/><circle cx="1154.3" cy="487.4" r="5.83"/><circle cx="1156.0" cy="507.4" r="5.83"/><circle cx="1157.4" cy="527.3" r="5.83"/><circle cx="1159.1" cy="547.2" r="5.83"/><circle cx="1160.7" cy="567.2" r="5.83"/><circle cx="1162.6" cy="587.1" r="5.83"/><circle cx="1164.0" cy="607.0" r="5.83"/><circle cx="1165.7" cy="627.0" r="5.83"/><circle cx="1167.1" cy="646.9" r="5.83"/><circle cx="1168.8" cy="666.8" r="5.83"/><circle cx="1170.4" cy="686.8" r="5.83"/><circle cx="1171.5" cy="706.7" r="5.83"/><circle cx="1173.2" cy="726.6" r="5.83"/><circle cx="1174.6" cy="746.6" r="5.83"/><circle cx="1175.7" cy="766.5" r="5.83"/><circle cx="1177.1" cy="786.4" r="5.83"/><circle cx="1178.5" cy="806.4" r="5.83"/></g>
<polyline points="1089.3,19.0 1089.3,23.0 1089.3,27.0 1089.3,31.0 1089.3,34.9 1089.3,38.9 1089.3,42.9 1089.3,48.9 1090.0,58.9 1090.5,68.8 1091.3,78.8 1092.2,88.8 1093.5,98.7 1094.8,108.7 1096.1,118.7 1099.0,138.6 1103.0,158.5 1108.3,178.5 1112.2,198.4 1116.5,218.3 1127.2,268.2 1136.9,318.0 1148.2,417.7 1157.1,517.3 1166.0,617.0 1173.2,716.7 1180.2,816.3" fill="none" stroke="#008000" stroke-width="2.50" stroke-linejoin="round"/><g fill="#008000"><circle cx="1089.3" cy="19.0" r="5.83"/><circle cx="1089.3" cy="23.0" r="5.83"/><circle cx="1089.3" cy="27.0" r="5.83"/><circle cx="1089.3" cy="31.0" r="5.83"/><circle cx="1089.3" cy="34.9" r="5.83"/><circle cx="1089.3" cy="38.9" r="5.83"/><circle cx="1089.3" cy="42.9" r="5.83"/><circle cx="1089.3" cy="48.9" r="5.83"/><circle cx="1090.0" cy="58.9" r="5.83"/><circle cx="1090.5" cy="68.8" r="5.83"/><circle cx="1091.3" cy="78.8" r="5.83"/><circle cx="1092.2" cy="88.8" r="5.83"/><circle cx="1093.5" cy="98.7" r="5.83"/><circle cx="1094.8" cy="108.7" r="5.83"/><circle cx="1096.1" cy="118.7" r="5.83"/><circle cx="1099.0" cy="138.6" r="5.83"/><circle cx="1103.0" cy="158.5" r="5.83"/><circle cx="1108.3" cy="178.5" r="5.83"/><circle cx="1112.2" cy="198.4" r="5.83"/><circle cx="1116.5" cy="218.3" r="5.83"/><circle cx="1127.2" cy="268.2" r="5.83"/><circle cx="1136.9" cy="318.0" r="5.83"/><circle cx="1148.2" cy="417.7" r="5.83"/><circle cx="1157.1" cy="517.3" r="5.83"/><circle cx="1166.0" cy="617.0" r="5.83"/><circle cx="1173.2" cy="716.7" r="5.83"/><circle cx="1180.2" cy="816.3" r="5.83"/></g>
<polyline points="1086.3,20.0 1086.3,22.1 1086.3,24.3 1086.3,26.6 1086.3,29.1 1086.3,31.8 1086.3,34.8 1086.3,38.1 1086.3,41.7 1086.3,45.9 1086.3,50.5 1086.3,55.9 1086.3,62.1 1088.5,69.2 1089.5,77.6 1090.5,87.6 1091.7,99.3 1092.9,113.5 1095.6,130.2 1098.5,150.2 1105.0,174.3 1111.4,203.0 1119.4,237.7 1128.5,279.5 1137.6,329.8 1144.6,390.0 1152.4,462.5 1159.6,549.2 1167.6,653.1 1176.0,776.9 1185.0,923.8" fill="none" stroke="#ff00ff" stroke-width="2.50" stroke-linejoin="round"/><g fill="#ff00ff"><circle cx="1086.3" cy="20.0" r="5.83"/><circle cx="1086.3" cy="22.1" r="5.83"/><circle cx="1086.3" cy="24.3" r="5.83"/><circle cx="1086.3" cy="26.6" r="5.83"/><circle cx="1086.3" cy="29.1" r="5.83"/><circle cx="1086.3" cy="31.8" r="5.83"/><circle cx="1086.3" cy="34.8" r="5.83"/><circle cx="1086.3" cy="38.1" r="5.83"/><circle cx="1086.3" cy="41.7" r="5.83"/><circle cx="1086.3" cy="45.9" r="5.83"/><circle cx="1086.3" cy="50.5" r="5.83"/><circle cx="1086.3" cy="55.9" r="5.83"/><circle cx="1086.3" cy="62.1" r="5.83"/><circle cx="1088.5" cy="69.2" r="5.83"/><circle cx="1089.5" cy="77.6" r="5.83"/><circle cx="1090.5" cy="87.6" r="5.83"/><circle cx="1091.7" cy="99.3" r="5.83"/><circle cx="1092.9" cy="113.5" r="5.83"/><circle cx="1095.6" cy="130.2" r="5.83"/><circle cx="1098.5" cy="150.2" r="5.83"/><circle cx="1105.0" cy="174.3" r="5.83"/><circle cx="1111.4" cy="203.0" r="5.83"/><circle cx="1119.4" cy="237.7" r="5.83"/><circle cx="1128.5" cy="279.5" r="5.83"/><circle cx="1137.6" cy="329.8" r="5.83"/><circle cx="1144.6" cy="390.0" r="5.83"/><circle cx="1152.4" cy="462.5" r="5.83"/><circle cx="1159.6" cy="549.2" r="5.83"/><circle cx="1167.6" cy="653.1" r="5.83"/><circle cx="1176.0" cy="776.9" r="5.83"/><circle cx="1185.0" cy="923.8" r="5.83"/></g></g>
<clipPath id="clip2"><rect x="1072.50" y="19.50" width="402.00" height="795.00"/></clipPath>
<path d="M1100.50 814.50v5.9M1209.50 814.50v5.9M1318.50 814.50v5.9M1427.50 814.50v5.9M1072.50 19.50h-5.9M1072.50 68.50h-5.9M1072.50 118.50h-5.9M1072.50 168.50h-5.9M1072.50 218.50h-5.9M1072.50 268.50h-5.9M1072.50 318.50h-5.9M1072.50 367.50h-5.9M1072.50 417.50h-5.9M1072.50 467.50h-5.9M1072.50 517.50h-5.9M1072.50 567.50h-5.9M1072.50 617.50h-5.9M1072.50 667.50h-5.9M1072.50 716.50h-5.9M1072.50 766.50h-5.9" stroke="#000" stroke-width="1.33" fill="none"/>
<rect x="1072.50" y="19.50" width="402.00" height="795.00" fill="none" stroke="#000" stroke-width="1.33"/>
<text transform="translate(1098.70 850.3) rotate(-45)" font-size="17.00" text-anchor="middle" dominant-baseline="central">1025</text>
<text transform="translate(1207.70 850.3) rotate(-45)" font-size="17.00" text-anchor="middle" dominant-baseline="central">1030</text>
<text transform="translate(1316.70 850.3) rotate(-45)" font-size="17.00" text-anchor="middle" dominant-baseline="central">1035</text>
<text transform="translate(1425.70 850.3) rotate(-45)" font-size="17.00" text-anchor="middle" dominant-baseline="central">1040</text>
</g>
<text x="288.4" y="871.9" font-size="22.60" font-weight="bold" text-anchor="middle">Temperature (<tspan font-weight="normal" font-style="italic" font-size="15.8" dy="-8.2" dx="0.7">o</tspan><tspan font-weight="normal" font-style="italic" dy="8.2" dx="1.1">C</tspan>)</text>
<text x="780.6" y="869.6" font-size="22.60" font-weight="bold" text-anchor="middle">Salinity</text>
<text x="1273.5" y="895.0" font-size="22.60" font-weight="bold" text-anchor="middle">Density (kg m-3)</text>
<text transform="translate(29.6 418.6) rotate(-90)" font-size="22.60" font-weight="bold" text-anchor="middle">Depth (m)</text>
<text x="424" y="918" font-size="17.38" font-style="italic" xml:space="preserve">Ocean Heat Content (kJ/cm^2) - Glider: N/A,  RTOFS: N/A,  ESPC: N/A,  CMEMS: N/A,</text>
<text x="1524.6" y="36.8" font-size="22.60" font-weight="bold">Comparison Date: 2025-04-07</text>
<text x="1524.6" y="89.6" font-size="22.60" font-weight="bold">Glider: sp041</text>
<text x="1524.6" y="116.2" font-size="22.60" font-weight="bold">Profiles: 7</text>
<text x="1524.6" y="142.8" font-size="22.60" font-weight="bold">First: 2025-04-07 02:13:30</text>
<text x="1524.6" y="169.5" font-size="22.60" font-weight="bold">Last: 2025-04-07 19:18:00</text>
<text x="1524.6" y="196.2" font-size="22.60" font-weight="bold">Method: Nearest-Neighbor</text>
<g>
<clipPath id="mapclip"><rect x="1602.3" y="260.8" width="326.1" height="311.4"/></clipPath>
<g clip-path="url(#mapclip)">
<rect x="1602.3" y="260.8" width="326.1" height="311.4" fill="#6495ed"/>
<rect x="1602.3" y="261.4" width="100" height="8.9" fill="#98b7e2"/>
<polygon points="1659.2,270.2 1700.0,270.2 1717.4,312.3 1722.0,318.0 1711.5,320.5 1706.5,307.8 1699.2,299.6 1688.3,295.0 1679.2,288.7 1670.1,277.8" fill="#98b7e2" fill-opacity="0.5"/>
<polygon points="1659.2,270.2 1700.0,270.2 1700.0,275.0 1690.0,276.0 1676.0,275.5 1668.0,273.0" fill="#98b7e2"/>
<polyline points="1691.9,261.4 1695.5,264.1 1699.2,268.7 1700.6,273.2 1702.4,276.8 1704.2,281.4 1707.4,287.8 1711.0,296.0 1713.7,301.4 1716.0,306.9 1717.4,312.3 1722.8,316.0 1729.2,320.5 1733.8,325.1" fill="none" stroke="#98b7e2" stroke-width="9.0" stroke-linejoin="round" stroke-linecap="round" stroke-opacity="1.00"/>
<polyline points="1733.8,325.1 1734.6,327.3 1737.3,332.7 1735.5,336.0 1729.1,337.2 1724.0,334.5 1722.0,331.0 1720.8,332.5 1722.5,336.2 1727.3,340.0 1733.7,344.6 1738.2,347.3 1742.8,350.5 1746.4,348.7 1747.8,351.8 1752.8,356.4 1757.3,360.0 1759.2,365.5 1758.7,371.0 1756.4,374.6 1759.2,378.2 1763.7,381.0 1768.3,383.7 1772.8,387.3 1778.3,391.0 1781.0,395.5 1782.8,398.7" fill="none" stroke="#98b7e2" stroke-width="22.0" stroke-linejoin="round" stroke-linecap="round" stroke-opacity="1.00"/>
<polyline points="1720.8,332.5 1722.5,336.2 1727.3,340.0 1733.7,344.6 1738.2,347.3 1742.8,350.5 1746.4,348.7 1747.8,351.8 1752.8,356.4 1757.3,360.0 1759.2,365.5 1758.7,371.0 1756.4,374.6 1759.2,378.2 1763.7,381.0 1768.3,383.7 1772.8,387.3 1778.3,391.0 1781.0,395.5 1782.8,398.7" fill="none" stroke="#b0c4de" stroke-width="11.0" stroke-linejoin="round" stroke-linecap="round" stroke-opacity="1.00"/>
<polyline points="1742.8,350.5 1746.4,348.7 1747.8,351.8 1752.8,356.4 1757.3,360.0 1759.2,365.5 1758.7,371.0 1756.4,374.6" fill="none" stroke="#b0c4de" stroke-width="17.0" stroke-linejoin="round" stroke-linecap="round" stroke-opacity="1.00"/>
<polygon points="1727.4,285.0 1760.0,285.0 1770.0,330.0 1750.0,335.0 1725.0,300.0" fill="#b0c4de"/>
<polyline points="1788.3,394.6 1788.7,391.9 1785.5,387.3 1782.8,382.8 1780.1,383.7 1776.5,379.1 1774.6,378.2 1774.6,373.7 1771.9,369.1 1769.2,363.7 1766.4,358.2 1763.7,352.8 1760.1,348.2 1757.3,343.7 1752.8,339.1 1750.1,333.6 1749.2,329.1" fill="none" stroke="#98b7e2" stroke-width="9.0" stroke-linejoin="round" stroke-linecap="round" stroke-opacity="1.00"/>
<polyline points="1765.5,330.0 1767.4,334.6 1774.6,337.3 1775.5,341.8 1779.2,345.5 1782.8,347.3 1784.6,350.9 1789.2,352.8 1791.9,356.4 1788.3,360.0 1788.3,364.6 1793.7,366.4 1800.1,370.0 1804.7,374.6 1807.4,378.2 1812.8,381.9 1816.5,387.3 1820.1,392.8 1821.9,395.0 1827.3,398.6 1831.0,404.1 1831.9,410.5 1835.5,415.9 1834.6,421.4 1831.9,424.1 1835.5,425.9 1831.0,428.7" fill="none" stroke="#98b7e2" stroke-width="15.0" stroke-linejoin="round" stroke-linecap="round" stroke-opacity="1.00"/>
<polyline points="1765.5,330.0 1767.4,334.6 1774.6,337.3 1775.5,341.8 1779.2,345.5 1782.8,347.3 1784.6,350.9 1789.2,352.8 1791.9,356.4 1788.3,360.0 1788.3,364.6 1793.7,366.4 1800.1,370.0" fill="none" stroke="#b0c4de" stroke-width="8.0" stroke-linejoin="round" stroke-linecap="round" stroke-opacity="1.00"/>
<polyline points="1812.8,381.9 1816.5,387.3 1820.1,392.8 1821.9,395.0 1827.3,398.6 1831.0,404.1 1831.9,410.5 1835.5,415.9 1834.6,421.4 1831.9,424.1 1835.5,425.9 1831.0,428.7" fill="none" stroke="#b0c4de" stroke-width="10.0" stroke-linejoin="round" stroke-linecap="round" stroke-opacity="1.00"/>
<polygon points="1749.2,329.1 1765.5,330.0 1767.4,334.6 1757.0,340.0" fill="#98b7e2"/>
<polyline points="1831.0,428.7 1832.8,433.2 1837.3,439.6 1845.5,444.1 1851.9,448.7 1855.5,453.2 1862.8,456.0 1872.8,457.8 1878.3,462.3 1884.7,466.0 1891.9,468.7 1898.3,472.3 1908.3,474.2 1912.9,477.8 1919.2,480.0 1928.4,483.1" fill="none" stroke="#98b7e2" stroke-width="5.5" stroke-linejoin="round" stroke-linecap="round" stroke-opacity="1.00"/>
<polyline points="1832.8,433.2 1837.3,439.6 1845.5,444.1 1851.9,448.7 1855.5,453.2 1862.8,456.0" fill="none" stroke="#b0c4de" stroke-width="3.5" stroke-linejoin="round" stroke-linecap="round" stroke-opacity="1.00"/>
<rect x="1915" y="330" width="14" height="100" fill="#b0c4de"/>
<rect x="1925.5" y="395" width="3" height="34" fill="#98b7e2"/>
<g fill="#b0c4de"><rect x="1623.9" y="453.5" width="1.6" height="1.3"/><rect x="1674.4" y="451.7" width="1.6" height="1.3"/><rect x="1701.5" y="453.0" width="1.6" height="1.3"/><rect x="1722.0" y="465.0" width="1.6" height="1.3"/><rect x="1758.6" y="451.0" width="1.6" height="1.3"/><rect x="1765.0" y="479.0" width="1.6" height="1.3"/><rect x="1789.5" y="477.5" width="1.6" height="1.3"/><rect x="1797.0" y="479.5" width="1.6" height="1.3"/><rect x="1661.5" y="505.0" width="1.6" height="1.3"/><rect x="1671.0" y="510.0" width="1.6" height="1.3"/><rect x="1674.0" y="525.0" width="1.6" height="1.3"/><rect x="1766.0" y="543.5" width="1.6" height="1.3"/><rect x="1775.0" y="545.5" width="1.6" height="1.3"/><rect x="1783.0" y="546.0" width="1.6" height="1.3"/><rect x="1791.0" y="546.5" width="1.6" height="1.3"/><rect x="1806.5" y="546.5" width="1.6" height="1.3"/><rect x="1866.0" y="511.0" width="1.6" height="1.3"/><rect x="1697.0" y="470.0" width="1.6" height="1.3"/><rect x="1722.5" y="465.0" width="1.6" height="1.3"/><rect x="1764.0" y="488.5" width="1.6" height="1.3"/><rect x="1638.0" y="404.0" width="1.6" height="1.3"/><rect x="1647.0" y="360.0" width="1.6" height="1.3"/><rect x="1674.5" y="368.0" width="1.6" height="1.3"/><rect x="1618.5" y="397.0" width="1.6" height="1.3"/><rect x="1624.5" y="425.0" width="1.6" height="1.3"/><rect x="1715.5" y="375.0" width="1.6" height="1.3"/><rect x="1668.7" y="307.0" width="1.6" height="1.3"/><rect x="1638.5" y="303.5" width="1.6" height="1.3"/><rect x="1692.5" y="299.5" width="1.6" height="1.3"/></g>
<polygon points="1691.9,260.8 1691.9,261.4 1695.5,264.1 1699.2,268.7 1700.6,273.2 1702.4,276.8 1704.2,281.4 1707.4,287.8 1711.0,296.0 1713.7,301.4 1716.0,306.9 1717.4,312.3 1722.8,316.0 1729.2,320.5 1733.8,325.1 1734.6,327.3 1737.3,332.7 1735.5,336.0 1729.1,337.2 1724.0,334.5 1722.0,331.0 1720.8,332.5 1722.5,336.2 1727.3,340.0 1733.7,344.6 1738.2,347.3 1742.8,350.5 1746.4,348.7 1747.8,351.8 1752.8,356.4 1757.3,360.0 1759.2,365.5 1758.7,371.0 1756.4,374.6 1759.2,378.2 1763.7,381.0 1768.3,383.7 1772.8,387.3 1778.3,391.0 1781.0,395.5 1782.8,398.7 1788.3,394.6 1788.7,391.9 1785.5,387.3 1782.8,382.8 1780.1,383.7 1776.5,379.1 1774.6,378.2 1774.6,373.7 1771.9,369.1 1769.2,363.7 1766.4,358.2 1763.7,352.8 1760.1,348.2 1757.3,343.7 1752.8,339.1 1750.1,333.6 1749.2,329.1 1744.7,322.3 1739.2,316.9 1731.9,312.3 1730.1,306.9 1728.3,299.6 1726.5,292.3 1727.4,285.0 1731.9,287.8 1737.4,287.8 1740.1,291.4 1746.5,293.2 1748.3,299.6 1750.1,306.9 1753.8,314.1 1756.5,317.8 1760.1,324.5 1765.5,330.0 1767.4,334.6 1774.6,337.3 1775.5,341.8 1779.2,345.5 1782.8,347.3 1784.6,350.9 1789.2,352.8 1791.9,356.4 1788.3,360.0 1788.3,364.6 1793.7,366.4 1800.1,370.0 1804.7,374.6 1807.4,378.2 1812.8,381.9 1816.5,387.3 1820.1,392.8 1821.9,395.0 1827.3,398.6 1831.0,404.1 1831.9,410.5 1835.5,415.9 1834.6,421.4 1831.9,424.1 1835.5,425.9 1831.0,428.7 1832.8,433.2 1837.3,439.6 1845.5,444.1 1851.9,448.7 1855.5,453.2 1862.8,456.0 1872.8,457.8 1878.3,462.3 1884.7,466.0 1891.9,468.7 1898.3,472.3 1908.3,474.2 1912.9,477.8 1919.2,480.0 1928.4,483.1 1928.4,428.7 1925.6,422.3 1922.0,415.0 1919.2,407.7 1917.9,402.3 1919.2,395.0 1919.1,388.6 1919.1,380.0 1920.0,371.4 1923.4,368.0 1926.8,361.1 1924.3,356.0 1923.4,349.1 1920.0,344.0 1922.5,337.1 1926.8,332.9 1928.4,332.0 1928.4,260.8" fill="#d2b48c"/>
<polyline points="1724.5,283.0 1725.6,278.7 1729.2,274.1 1735.6,273.2 1744.7,270.5 1750.1,266.8 1753.8,265.0 1762.9,268.7 1764.5,269.6 1769.1,268.7 1773.6,269.6 1778.2,267.7 1782.7,270.5 1786.4,272.3 1790.0,270.9 1791.8,274.1 1795.5,275.0 1799.1,269.6 1802.8,266.8 1802.8,263.2" fill="none" stroke="#98b7e2" stroke-width="1.4" stroke-linejoin="round"/>
<polyline points="1816.0,260.9 1812.8,269.6 1813.7,274.1 1817.3,277.8 1819.1,283.2" fill="none" stroke="#98b7e2" stroke-width="1.4" stroke-linejoin="round"/>
<polyline points="1876.0,263.2 1881.0,267.7 1888.3,271.4 1894.7,269.1 1895.6,264.6 1901.5,262.3 1909.2,268.7 1916.5,274.1 1922.9,281.4 1928.3,290.5" fill="none" stroke="#98b7e2" stroke-width="1.4" stroke-linejoin="round"/>
<polyline points="1834.6,411.8 1841.0,411.8 1845.5,417.7 1851.0,421.4 1855.5,421.4 1860.1,427.8 1863.7,430.0 1857.4,430.5" fill="none" stroke="#98b7e2" stroke-width="1.4" stroke-linejoin="round"/>
<polyline points="1891.0,408.2 1897.4,413.2 1902.9,413.2 1909.2,410.0 1919.2,406.4" fill="none" stroke="#98b7e2" stroke-width="1.4" stroke-linejoin="round"/>
<polyline points="1819.1,284.1 1823.7,289.6 1831.0,296.0 1838.3,301.4 1841.0,308.7 1844.6,315.1 1851.0,318.7 1858.3,322.8 1861.9,317.8 1864.6,313.2 1868.3,311.4 1877.4,312.3 1882.8,316.9 1887.4,322.3 1890.5,329.0 1890.8,329.4 1897.7,338.0 1900.3,342.3 1900.3,346.6 1904.5,354.3 1913.1,359.0 1921.7,360.7 1926.8,361.1" fill="none" stroke="#98b7e2" stroke-width="1.4" stroke-linejoin="round"/>
<polyline points="1716.5,262.5 1719.0,265.5" fill="none" stroke="#98b7e2" stroke-width="1.4" stroke-linejoin="round"/>
<path d="M1852.5 320.5q2.5 3.5 6 2.5q3-1 2.5-3" fill="none" stroke="#000" stroke-width="1.1"/>
<polyline points="1701.5,276.6 1728.3,274.1" stroke="#000" stroke-width="1.7" fill="none" stroke-dasharray="5.6 2.4"/>
<polyline points="1728.3,275.5 1760.0,288.7 1769.1,292.3 1792.9,292.3 1802.8,292.3 1802.8,286.9 1819.1,286.4" stroke="#000" stroke-width="1.7" fill="none" stroke-dasharray="5.6 2.4"/>
<polyline points="1819.1,284.1 1823.7,289.6 1831.0,296.0 1838.3,301.4 1841.0,308.7 1844.6,315.1 1851.0,318.7 1858.3,322.8 1861.9,317.8 1864.6,313.2 1868.3,311.4 1877.4,312.3 1882.8,316.9 1887.4,322.3 1890.5,329.0 1890.8,329.4 1897.7,338.0 1900.3,342.3 1900.3,346.6 1904.5,354.3 1913.1,359.0 1921.7,360.7 1926.8,361.1" stroke="#000" stroke-width="1.7" fill="none" stroke-dasharray="5.6 2.4"/>
<polyline points="1728.3,274.1 1731.0,270.5 1729.2,266.0 1731.0,261.4" fill="none" stroke="#000" stroke-width="1.2"/>
<path d="M1792.9 261.4V292.3M1819.1 283.7H1860.1V261.4" fill="none" stroke="#000" stroke-width="1.35"/>
<polyline points="1691.9,261.4 1695.5,264.1 1699.2,268.7 1700.6,273.2 1702.4,276.8 1704.2,281.4 1707.4,287.8 1711.0,296.0 1713.7,301.4 1716.0,306.9 1717.4,312.3 1722.8,316.0 1729.2,320.5 1733.8,325.1 1734.6,327.3 1737.3,332.7 1735.5,336.0 1729.1,337.2 1724.0,334.5 1722.0,331.0 1720.8,332.5 1722.5,336.2 1727.3,340.0 1733.7,344.6 1738.2,347.3 1742.8,350.5 1746.4,348.7 1747.8,351.8 1752.8,356.4 1757.3,360.0 1759.2,365.5 1758.7,371.0 1756.4,374.6 1759.2,378.2 1763.7,381.0 1768.3,383.7 1772.8,387.3 1778.3,391.0 1781.0,395.5 1782.8,398.7 1788.3,394.6 1788.7,391.9 1785.5,387.3 1782.8,382.8 1780.1,383.7 1776.5,379.1 1774.6,378.2 1774.6,373.7 1771.9,369.1 1769.2,363.7 1766.4,358.2 1763.7,352.8 1760.1,348.2 1757.3,343.7 1752.8,339.1 1750.1,333.6 1749.2,329.1 1744.7,322.3 1739.2,316.9 1731.9,312.3 1730.1,306.9 1728.3,299.6 1726.5,292.3 1727.4,285.0 1731.9,287.8 1737.4,287.8 1740.1,291.4 1746.5,293.2 1748.3,299.6 1750.1,306.9 1753.8,314.1 1756.5,317.8 1760.1,324.5 1765.5,330.0 1767.4,334.6 1774.6,337.3 1775.5,341.8 1779.2,345.5 1782.8,347.3 1784.6,350.9 1789.2,352.8 1791.9,356.4 1788.3,360.0 1788.3,364.6 1793.7,366.4 1800.1,370.0 1804.7,374.6 1807.4,378.2 1812.8,381.9 1816.5,387.3 1820.1,392.8 1821.9,395.0 1827.3,398.6 1831.0,404.1 1831.9,410.5 1835.5,415.9 1834.6,421.4 1831.9,424.1 1835.5,425.9 1831.0,428.7 1832.8,433.2 1837.3,439.6 1845.5,444.1 1851.9,448.7 1855.5,453.2 1862.8,456.0 1872.8,457.8 1878.3,462.3 1884.7,466.0 1891.9,468.7 1898.3,472.3 1908.3,474.2 1912.9,477.8 1919.2,480.0 1928.4,483.1" fill="none" stroke="#000" stroke-width="2.4" stroke-linejoin="round"/>
<polyline points="1928.4,428.7 1925.6,422.3 1922.0,415.0 1919.2,407.7 1917.9,402.3 1919.2,395.0 1919.1,388.6 1919.1,380.0 1920.0,371.4 1923.4,368.0 1926.8,361.1 1924.3,356.0 1923.4,349.1 1920.0,344.0 1922.5,337.1 1926.8,332.9 1928.4,332.0" fill="none" stroke="#000" stroke-width="2.6" stroke-linejoin="round"/>
<path d="M1927 333l-4.5 4 -3.2 7.5 3.6 5 1 7 2.8 5z" fill="#000"/>
<path d="M1926.5 337l-2.5 8 2.5 14 1.6 0 0-22z" fill="#b0c4de"/>
<path d="M1923.5 367.5l-3.6 3.6 -1 9 1.2 3 3.5-10z" fill="#2f3c4c"/>
<path d="M1741.6 315.2L1748.6 326.2" stroke="#000" stroke-width="3.2" stroke-linecap="round"/>
<circle cx="1755.6" cy="322.6" r="1.7" fill="#d2b48c" stroke="#000" stroke-width="1.5"/>
<circle cx="1722.3" cy="331.5" r="1.9" fill="#000"/><circle cx="1719.2" cy="331.4" r="1.0" fill="none" stroke="#000" stroke-width="0.8"/>
<ellipse cx="1688.7" cy="321.9" rx="1.5" ry="3.3" fill="#000" transform="rotate(-8 1688.7 321.9)"/>
<ellipse cx="1675.1" cy="266.8" rx="1.9" ry="1.2" fill="#000" transform="rotate(25 1675.1 266.8)"/>
<path d="M1685.2 263.3l3.2 2.8M1684.9 269.6l3.4 4.2" stroke="#000" stroke-width="2.3" stroke-linecap="round"/>
<circle cx="1680.2" cy="264" r="0.9" fill="#5b6e8c"/>
<circle cx="1770.9" cy="447.8" r="1.8" fill="#000"/><circle cx="1773" cy="441.7" r="0.9" fill="#000"/><circle cx="1728.5" cy="452.8" r="1.3" fill="#000"/>
<path d="M1819.1 411.8L1824.6 417.7" stroke="#000" stroke-width="2.4" stroke-linecap="round"/>
<circle cx="1828.2" cy="411" r="0.8" fill="#333"/>
<g fill="#000"><circle cx="1772.5" cy="364.5" r="0.7"/><circle cx="1774" cy="369" r="0.7"/><circle cx="1771" cy="360.5" r="0.6"/></g>
<circle cx="1655.8" cy="287.5" r="4.4" fill="#ff0000" stroke="#000" stroke-width="1.5"/>
<circle cx="1656.6" cy="287.1" r="4.4" fill="#ff0000" stroke="#000" stroke-width="1.5"/>
<circle cx="1657.4" cy="286.3" r="4.4" fill="#ff0000" stroke="#000" stroke-width="1.5"/>
</g>
<path d="M1602.3 260.6V572.2H1928.4V261.4" fill="none" stroke="#000" stroke-width="1.7"/>
<path d="M1602.3 261.4H1692.5" fill="none" stroke="#000" stroke-width="1.6"/>
<path d="M1602.3 260.9v-8.3M1602.3 572.2v8.6M1636.1 260.9v-8.3M1636.1 572.2v8.6M1669.9 260.9v-8.3M1669.9 572.2v8.6M1703.7 260.9v-8.3M1703.7 572.2v8.6M1737.5 260.9v-8.3M1737.5 572.2v8.6M1771.3 260.9v-8.3M1771.3 572.2v8.6M1805.1 260.9v-8.3M1805.1 572.2v8.6M1838.9 260.9v-8.3M1838.9 572.2v8.6M1872.7 260.9v-8.3M1872.7 572.2v8.6M1906.5 260.9v-8.3M1906.5 572.2v8.6M1602.3 561.8h-8.6M1928.4 561.8h8.6M1602.3 527.5h-8.6M1928.4 527.5h8.6M1602.3 492.9h-8.6M1928.4 492.9h8.6M1602.3 457.8h-8.6M1928.4 457.8h8.6M1602.3 422.1h-8.6M1928.4 422.1h8.6M1602.3 385.6h-8.6M1928.4 385.6h8.6M1602.3 348.3h-8.6M1928.4 348.3h8.6M1602.3 310.0h-8.6M1928.4 310.0h8.6M1602.3 270.5h-8.6M1928.4 270.5h8.6" stroke="#000" stroke-width="3.0" fill="none"/>
<path d="M1613.6 260.9v-3.3M1613.6 572.2v3.4M1624.8 260.9v-3.3M1624.8 572.2v3.4M1647.4 260.9v-3.3M1647.4 572.2v3.4M1658.6 260.9v-3.3M1658.6 572.2v3.4M1681.2 260.9v-3.3M1681.2 572.2v3.4M1692.4 260.9v-3.3M1692.4 572.2v3.4M1715.0 260.9v-3.3M1715.0 572.2v3.4M1726.2 260.9v-3.3M1726.2 572.2v3.4M1748.8 260.9v-3.3M1748.8 572.2v3.4M1760.0 260.9v-3.3M1760.0 572.2v3.4M1782.6 260.9v-3.3M1782.6 572.2v3.4M1793.8 260.9v-3.3M1793.8 572.2v3.4M1816.4 260.9v-3.3M1816.4 572.2v3.4M1827.6 260.9v-3.3M1827.6 572.2v3.4M1850.2 260.9v-3.3M1850.2 572.2v3.4M1861.4 260.9v-3.3M1861.4 572.2v3.4M1884.0 260.9v-3.3M1884.0 572.2v3.4M1895.2 260.9v-3.3M1895.2 572.2v3.4M1917.8 260.9v-3.3M1917.8 572.2v3.4M1929.0 260.9v-3.3M1929.0 572.2v3.4M1602.3 550.4h-3.4M1928.4 550.4h3.4M1602.3 539.0h-3.4M1928.4 539.0h3.4M1602.3 516.0h-3.4M1928.4 516.0h3.4M1602.3 504.5h-3.4M1928.4 504.5h3.4M1602.3 481.3h-3.4M1928.4 481.3h3.4M1602.3 469.6h-3.4M1928.4 469.6h3.4M1602.3 446.0h-3.4M1928.4 446.0h3.4M1602.3 434.0h-3.4M1928.4 434.0h3.4M1602.3 410.0h-3.4M1928.4 410.0h3.4M1602.3 397.9h-3.4M1928.4 397.9h3.4M1602.3 373.3h-3.4M1928.4 373.3h3.4M1602.3 360.9h-3.4M1928.4 360.9h3.4M1602.3 335.7h-3.4M1928.4 335.7h3.4M1602.3 322.9h-3.4M1928.4 322.9h3.4M1602.3 297.0h-3.4M1928.4 297.0h3.4M1602.3 283.8h-3.4M1928.4 283.8h3.4" stroke="#000" stroke-width="1.5" fill="none"/>
<text x="1586.5" y="570.0" font-size="22.3" text-anchor="end">9°N</text>
<text x="1586.5" y="535.7" font-size="22.3" text-anchor="end">12°N</text>
<text x="1586.5" y="501.1" font-size="22.3" text-anchor="end">15°N</text>
<text x="1586.5" y="466.0" font-size="22.3" text-anchor="end">18°N</text>
<text x="1586.5" y="430.3" font-size="22.3" text-anchor="end">21°N</text>
<text x="1586.5" y="393.8" font-size="22.3" text-anchor="end">24°N</text>
<text x="1586.5" y="356.5" font-size="22.3" text-anchor="end">27°N</text>
<text x="1586.5" y="318.2" font-size="22.3" text-anchor="end">30°N</text>
<text x="1586.5" y="278.7" font-size="22.3" text-anchor="end">33°N</text>
<text transform="translate(1600.0 623.5) rotate(-45)" font-size="22.3" text-anchor="middle" dominant-baseline="central">126°W</text>
<text transform="translate(1633.8 623.5) rotate(-45)" font-size="22.3" text-anchor="middle" dominant-baseline="central">123°W</text>
<text transform="translate(1667.6 623.5) rotate(-45)" font-size="22.3" text-anchor="middle" dominant-baseline="central">120°W</text>
<text transform="translate(1701.4 623.5) rotate(-45)" font-size="22.3" text-anchor="middle" dominant-baseline="central">117°W</text>
<text transform="translate(1735.2 623.5) rotate(-45)" font-size="22.3" text-anchor="middle" dominant-baseline="central">114°W</text>
<text transform="translate(1769.0 623.5) rotate(-45)" font-size="22.3" text-anchor="middle" dominant-baseline="central">111°W</text>
<text transform="translate(1802.8 623.5) rotate(-45)" font-size="22.3" text-anchor="middle" dominant-baseline="central">108°W</text>
<text transform="translate(1836.6 623.5) rotate(-45)" font-size="22.3" text-anchor="middle" dominant-baseline="central">105°W</text>
<text transform="translate(1870.4 623.5) rotate(-45)" font-size="22.3" text-anchor="middle" dominant-baseline="central">102°W</text>
<text transform="translate(1904.2 618.5) rotate(-45)" font-size="22.3" text-anchor="middle" dominant-baseline="central">99°W</text>
</g>
<rect x="1682.7" y="664.7" width="165.3" height="144.2" rx="4.5" fill="#fff" fill-opacity="0.8" stroke="#ccc" stroke-width="1.67"/>
<path d="M1691.3 684.2H1738.8" stroke="#0000ff" stroke-width="2.5"/>
<circle cx="1715.05" cy="684.2" r="5.83" fill="#0000ff"/>
<text x="1754.4" y="693.3" font-size="22.3">sp041</text>
<path d="M1691.3 718.6H1738.8" stroke="#ff0000" stroke-width="2.5"/>
<circle cx="1715.05" cy="718.6" r="5.83" fill="#ff0000"/>
<text x="1754.4" y="727.0" font-size="22.3">RTOFS</text>
<path d="M1691.3 752.6H1738.8" stroke="#008000" stroke-width="2.5"/>
<circle cx="1715.05" cy="752.6" r="5.83" fill="#008000"/>
<text x="1754.4" y="760.8" font-size="22.3">ESPC</text>
<path d="M1691.3 787.0H1738.8" stroke="#ff00ff" stroke-width="2.5"/>
<circle cx="1715.05" cy="787.0" r="5.83" fill="#ff00ff"/>
<text x="1754.4" y="795.0" font-size="22.3">CMEMS</text>
</svg>
</body></html>
